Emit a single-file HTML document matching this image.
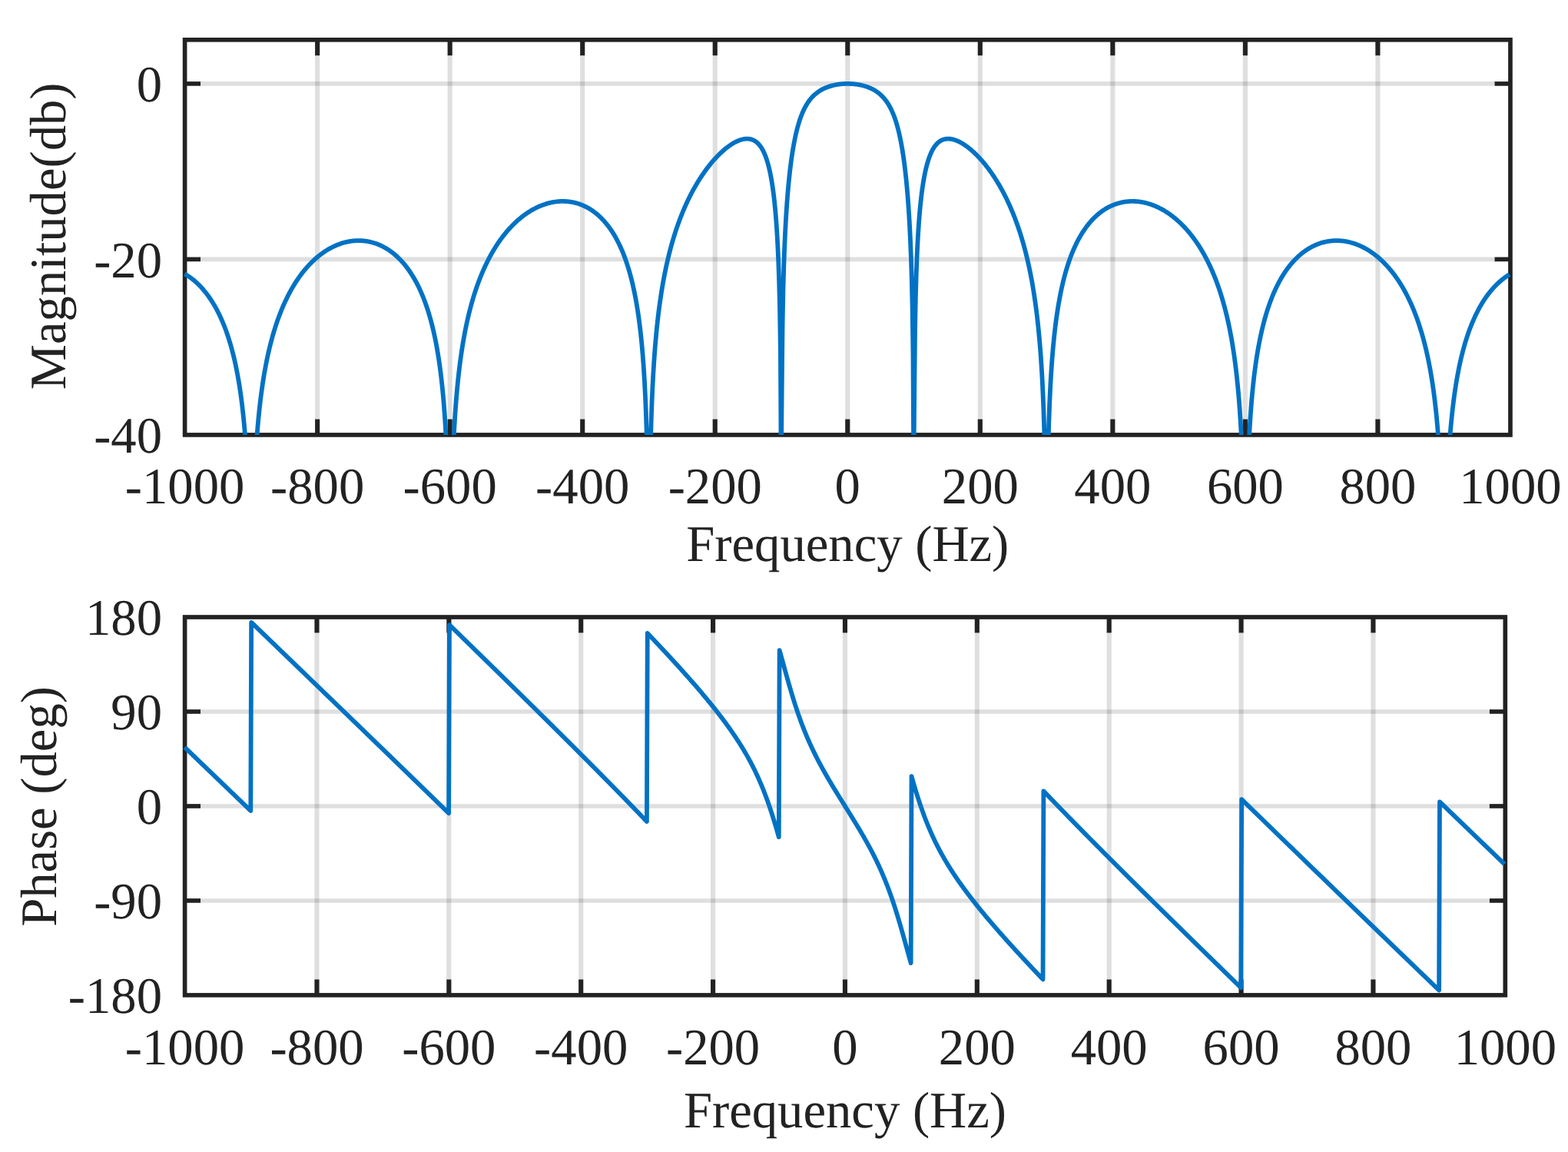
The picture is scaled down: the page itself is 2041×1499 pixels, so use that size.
<!DOCTYPE html>
<html lang="en"><head><meta charset="utf-8"><title>Frequency response</title>
<style>
html,body{margin:0;padding:0;background:#fff;}
body{width:2041px;height:1499px;overflow:hidden;}
svg{display:block;}
svg text{text-rendering:geometricPrecision;font-family:"Liberation Serif",serif;font-size:66.67px;fill:#222222;}
</style></head><body>
<svg width="2041" height="1499" viewBox="0 0 2041 1499">
<rect width="2041" height="1499" fill="#ffffff"/>
<g>
<line x1="413.13" y1="51.80" x2="413.13" y2="565.90" stroke="#262626" stroke-opacity="0.15" stroke-width="6.1"/>
<line x1="585.67" y1="51.80" x2="585.67" y2="565.90" stroke="#262626" stroke-opacity="0.15" stroke-width="6.1"/>
<line x1="758.21" y1="51.80" x2="758.21" y2="565.90" stroke="#262626" stroke-opacity="0.15" stroke-width="6.1"/>
<line x1="930.74" y1="51.80" x2="930.74" y2="565.90" stroke="#262626" stroke-opacity="0.15" stroke-width="6.1"/>
<line x1="1103.28" y1="51.80" x2="1103.28" y2="565.90" stroke="#262626" stroke-opacity="0.15" stroke-width="6.1"/>
<line x1="1275.81" y1="51.80" x2="1275.81" y2="565.90" stroke="#262626" stroke-opacity="0.15" stroke-width="6.1"/>
<line x1="1448.35" y1="51.80" x2="1448.35" y2="565.90" stroke="#262626" stroke-opacity="0.15" stroke-width="6.1"/>
<line x1="1620.88" y1="51.80" x2="1620.88" y2="565.90" stroke="#262626" stroke-opacity="0.15" stroke-width="6.1"/>
<line x1="1793.41" y1="51.80" x2="1793.41" y2="565.90" stroke="#262626" stroke-opacity="0.15" stroke-width="6.1"/>
<line x1="240.60" y1="108.92" x2="1965.95" y2="108.92" stroke="#262626" stroke-opacity="0.15" stroke-width="5.6"/>
<line x1="240.60" y1="337.41" x2="1965.95" y2="337.41" stroke="#262626" stroke-opacity="0.15" stroke-width="5.6"/>
<line x1="413.13" y1="51.80" x2="413.13" y2="72.20" stroke="#222222" stroke-width="6.1"/>
<line x1="413.13" y1="565.90" x2="413.13" y2="545.50" stroke="#222222" stroke-width="6.1"/>
<line x1="585.67" y1="51.80" x2="585.67" y2="72.20" stroke="#222222" stroke-width="6.1"/>
<line x1="585.67" y1="565.90" x2="585.67" y2="545.50" stroke="#222222" stroke-width="6.1"/>
<line x1="758.21" y1="51.80" x2="758.21" y2="72.20" stroke="#222222" stroke-width="6.1"/>
<line x1="758.21" y1="565.90" x2="758.21" y2="545.50" stroke="#222222" stroke-width="6.1"/>
<line x1="930.74" y1="51.80" x2="930.74" y2="72.20" stroke="#222222" stroke-width="6.1"/>
<line x1="930.74" y1="565.90" x2="930.74" y2="545.50" stroke="#222222" stroke-width="6.1"/>
<line x1="1103.28" y1="51.80" x2="1103.28" y2="72.20" stroke="#222222" stroke-width="6.1"/>
<line x1="1103.28" y1="565.90" x2="1103.28" y2="545.50" stroke="#222222" stroke-width="6.1"/>
<line x1="1275.81" y1="51.80" x2="1275.81" y2="72.20" stroke="#222222" stroke-width="6.1"/>
<line x1="1275.81" y1="565.90" x2="1275.81" y2="545.50" stroke="#222222" stroke-width="6.1"/>
<line x1="1448.35" y1="51.80" x2="1448.35" y2="72.20" stroke="#222222" stroke-width="6.1"/>
<line x1="1448.35" y1="565.90" x2="1448.35" y2="545.50" stroke="#222222" stroke-width="6.1"/>
<line x1="1620.88" y1="51.80" x2="1620.88" y2="72.20" stroke="#222222" stroke-width="6.1"/>
<line x1="1620.88" y1="565.90" x2="1620.88" y2="545.50" stroke="#222222" stroke-width="6.1"/>
<line x1="1793.41" y1="51.80" x2="1793.41" y2="72.20" stroke="#222222" stroke-width="6.1"/>
<line x1="1793.41" y1="565.90" x2="1793.41" y2="545.50" stroke="#222222" stroke-width="6.1"/>
<line x1="240.60" y1="108.92" x2="261.00" y2="108.92" stroke="#222222" stroke-width="5.6"/>
<line x1="1965.95" y1="108.92" x2="1945.55" y2="108.92" stroke="#222222" stroke-width="5.6"/>
<line x1="240.60" y1="337.41" x2="261.00" y2="337.41" stroke="#222222" stroke-width="5.6"/>
<line x1="1965.95" y1="337.41" x2="1945.55" y2="337.41" stroke="#222222" stroke-width="5.6"/>
<rect x="240.60" y="51.80" width="1725.35" height="514.10" fill="none" stroke="#222222" stroke-width="5.65"/>
<clipPath id="c1"><rect x="228.60" y="51.80" width="1749.35" height="514.10"/></clipPath>
<path d="M240.37,356.38 L241.23,356.88 L242.09,357.40 L242.96,357.94 L243.82,358.48 L244.68,359.05 L245.54,359.63 L246.41,360.22 L247.27,360.83 L248.13,361.46 L248.99,362.10 L249.86,362.76 L250.72,363.44 L251.58,364.13 L252.44,364.84 L253.31,365.57 L254.17,366.31 L255.03,367.08 L255.90,367.86 L256.76,368.66 L257.62,369.48 L258.48,370.32 L259.35,371.18 L260.21,372.06 L261.07,372.96 L261.93,373.88 L262.80,374.82 L263.66,375.79 L264.52,376.77 L265.38,377.79 L266.25,378.82 L267.11,379.88 L267.97,380.96 L268.84,382.07 L269.70,383.20 L270.56,384.36 L271.42,385.55 L272.29,386.76 L273.15,388.01 L274.01,389.28 L274.87,390.58 L275.74,391.92 L276.60,393.29 L277.46,394.69 L278.32,396.12 L279.19,397.59 L280.05,399.09 L280.91,400.64 L281.78,402.22 L282.64,403.84 L283.50,405.50 L284.36,407.21 L285.23,408.96 L286.09,410.76 L286.95,412.60 L287.81,414.50 L288.68,416.44 L289.54,418.45 L290.40,420.50 L291.26,422.62 L292.13,424.80 L292.99,427.05 L293.85,429.36 L294.72,431.74 L295.58,434.20 L296.44,436.74 L297.30,439.36 L298.17,442.07 L299.03,444.87 L299.89,447.77 L300.75,450.78 L301.62,453.90 L302.48,457.14 L303.34,460.50 L304.21,464.01 L305.07,467.66 L305.93,471.47 L306.79,475.45 L307.66,479.62 L308.52,483.99 L309.38,488.59 L310.24,493.43 L311.11,498.54 L311.97,503.95 L312.83,509.71 L313.69,515.83 L314.56,522.39 L315.42,529.45 L316.28,537.07 L317.15,545.35 L318.01,554.42 L318.87,564.45 L319.73,575.63 L320.60,588.28 L321.46,602.84 L322.32,619.95 L323.18,640.70 L324.05,667.06 L324.91,703.16 L325.77,760.67 L326.63,794.39 L327.50,794.39 L328.36,729.67 L329.22,684.30 L330.09,653.23 L330.95,629.57 L331.81,610.45 L332.67,594.40 L333.54,580.57 L334.40,568.41 L335.26,557.57 L336.12,547.79 L336.99,538.88 L337.85,530.70 L338.71,523.13 L339.57,516.09 L340.44,509.52 L341.30,503.35 L342.16,497.54 L343.03,492.05 L343.89,486.85 L344.75,481.90 L345.61,477.19 L346.48,472.70 L347.34,468.40 L348.20,464.28 L349.06,460.32 L349.93,456.52 L350.79,452.86 L351.65,449.34 L352.51,445.94 L353.38,442.65 L354.24,439.47 L355.10,436.40 L355.97,433.42 L356.83,430.53 L357.69,427.73 L358.55,425.01 L359.42,422.37 L360.28,419.80 L361.14,417.30 L362.00,414.86 L362.87,412.49 L363.73,410.18 L364.59,407.93 L365.45,405.73 L366.32,403.59 L367.18,401.50 L368.04,399.46 L368.91,397.46 L369.77,395.51 L370.63,393.61 L371.49,391.74 L372.36,389.92 L373.22,388.14 L374.08,386.39 L374.94,384.68 L375.81,383.01 L376.67,381.37 L377.53,379.77 L378.40,378.20 L379.26,376.66 L380.12,375.15 L380.98,373.67 L381.85,372.22 L382.71,370.79 L383.57,369.40 L384.43,368.03 L385.30,366.69 L386.16,365.37 L387.02,364.08 L387.88,362.81 L388.75,361.57 L389.61,360.35 L390.47,359.15 L391.34,357.98 L392.20,356.82 L393.06,355.69 L393.92,354.58 L394.79,353.49 L395.65,352.42 L396.51,351.37 L397.37,350.33 L398.24,349.32 L399.10,348.33 L399.96,347.35 L400.82,346.39 L401.69,345.45 L402.55,344.53 L403.41,343.62 L404.28,342.73 L405.14,341.86 L406.00,341.00 L406.86,340.16 L407.73,339.34 L408.59,338.53 L409.45,337.74 L410.31,336.96 L411.18,336.20 L412.04,335.45 L412.90,334.71 L413.76,333.99 L414.63,333.29 L415.49,332.60 L416.35,331.92 L417.22,331.25 L418.08,330.60 L418.94,329.97 L419.80,329.34 L420.67,328.73 L421.53,328.14 L422.39,327.55 L423.25,326.98 L424.12,326.42 L424.98,325.88 L425.84,325.34 L426.70,324.82 L427.57,324.31 L428.43,323.82 L429.29,323.33 L430.16,322.86 L431.02,322.40 L431.88,321.95 L432.74,321.51 L433.61,321.08 L434.47,320.67 L435.33,320.27 L436.19,319.88 L437.06,319.50 L437.92,319.13 L438.78,318.77 L439.65,318.42 L440.51,318.09 L441.37,317.77 L442.23,317.45 L443.10,317.15 L443.96,316.86 L444.82,316.58 L445.68,316.31 L446.55,316.05 L447.41,315.81 L448.27,315.57 L449.13,315.35 L450.00,315.13 L450.86,314.93 L451.72,314.73 L452.59,314.55 L453.45,314.38 L454.31,314.22 L455.17,314.07 L456.04,313.93 L456.90,313.80 L457.76,313.68 L458.62,313.58 L459.49,313.48 L460.35,313.40 L461.21,313.32 L462.07,313.26 L462.94,313.20 L463.80,313.16 L464.66,313.13 L465.53,313.11 L466.39,313.10 L467.25,313.10 L468.11,313.11 L468.98,313.13 L469.84,313.16 L470.70,313.21 L471.56,313.26 L472.43,313.33 L473.29,313.41 L474.15,313.50 L475.01,313.60 L475.88,313.71 L476.74,313.83 L477.60,313.97 L478.47,314.11 L479.33,314.27 L480.19,314.44 L481.05,314.62 L481.92,314.81 L482.78,315.01 L483.64,315.23 L484.50,315.46 L485.37,315.70 L486.23,315.95 L487.09,316.21 L487.95,316.49 L488.82,316.78 L489.68,317.08 L490.54,317.40 L491.41,317.72 L492.27,318.06 L493.13,318.42 L493.99,318.78 L494.86,319.16 L495.72,319.56 L496.58,319.96 L497.44,320.39 L498.31,320.82 L499.17,321.27 L500.03,321.73 L500.89,322.21 L501.76,322.70 L502.62,323.21 L503.48,323.73 L504.35,324.27 L505.21,324.82 L506.07,325.39 L506.93,325.97 L507.80,326.57 L508.66,327.19 L509.52,327.82 L510.38,328.47 L511.25,329.14 L512.11,329.82 L512.97,330.53 L513.84,331.25 L514.70,331.99 L515.56,332.74 L516.42,333.52 L517.29,334.32 L518.15,335.13 L519.01,335.97 L519.87,336.82 L520.74,337.70 L521.60,338.60 L522.46,339.52 L523.32,340.46 L524.19,341.43 L525.05,342.42 L525.91,343.43 L526.78,344.47 L527.64,345.53 L528.50,346.62 L529.36,347.74 L530.23,348.88 L531.09,350.05 L531.95,351.25 L532.81,352.48 L533.68,353.73 L534.54,355.02 L535.40,356.34 L536.26,357.70 L537.13,359.09 L537.99,360.51 L538.85,361.97 L539.72,363.46 L540.58,365.00 L541.44,366.57 L542.30,368.19 L543.17,369.85 L544.03,371.55 L544.89,373.30 L545.75,375.10 L546.62,376.95 L547.48,378.85 L548.34,380.80 L549.20,382.81 L550.07,384.88 L550.93,387.02 L551.79,389.21 L552.66,391.48 L553.52,393.81 L554.38,396.22 L555.24,398.71 L556.11,401.28 L556.97,403.94 L557.83,406.70 L558.69,409.55 L559.56,412.51 L560.42,415.58 L561.28,418.77 L562.14,422.08 L563.01,425.54 L563.87,429.14 L564.73,432.90 L565.60,436.83 L566.46,440.95 L567.32,445.27 L568.18,449.82 L569.05,454.61 L569.91,459.67 L570.77,465.03 L571.63,470.73 L572.50,476.81 L573.36,483.32 L574.22,490.32 L575.08,497.89 L575.95,506.12 L576.81,515.14 L577.67,525.11 L578.54,536.24 L579.40,548.84 L580.26,563.34 L581.12,580.40 L581.99,601.10 L582.85,627.40 L583.71,663.45 L584.57,720.91 L585.44,794.39 L586.30,775.53 L587.16,689.76 L588.03,644.33 L588.89,613.21 L589.75,589.49 L590.61,570.31 L591.48,554.21 L592.34,540.33 L593.20,528.12 L594.06,517.22 L594.93,507.39 L595.79,498.42 L596.65,490.18 L597.51,482.56 L598.38,475.47 L599.24,468.84 L600.10,462.61 L600.97,456.75 L601.83,451.20 L602.69,445.94 L603.55,440.94 L604.42,436.18 L605.28,431.62 L606.14,427.27 L607.00,423.09 L607.87,419.08 L608.73,415.22 L609.59,411.50 L610.45,407.92 L611.32,404.46 L612.18,401.12 L613.04,397.88 L613.91,394.75 L614.77,391.71 L615.63,388.77 L616.49,385.91 L617.36,383.13 L618.22,380.42 L619.08,377.79 L619.94,375.24 L620.81,372.74 L621.67,370.31 L622.53,367.94 L623.39,365.63 L624.26,363.38 L625.12,361.17 L625.98,359.02 L626.85,356.92 L627.71,354.86 L628.57,352.85 L629.43,350.88 L630.30,348.96 L631.16,347.07 L632.02,345.23 L632.88,343.42 L633.75,341.65 L634.61,339.92 L635.47,338.22 L636.33,336.55 L637.20,334.91 L638.06,333.31 L638.92,331.74 L639.79,330.19 L640.65,328.68 L641.51,327.19 L642.37,325.73 L643.24,324.30 L644.10,322.90 L644.96,321.52 L645.82,320.16 L646.69,318.83 L647.55,317.52 L648.41,316.23 L649.28,314.97 L650.14,313.73 L651.00,312.51 L651.86,311.31 L652.73,310.13 L653.59,308.98 L654.45,307.84 L655.31,306.72 L656.18,305.62 L657.04,304.54 L657.90,303.48 L658.76,302.44 L659.63,301.41 L660.49,300.40 L661.35,299.41 L662.22,298.44 L663.08,297.48 L663.94,296.54 L664.80,295.61 L665.67,294.70 L666.53,293.81 L667.39,292.93 L668.25,292.07 L669.12,291.22 L669.98,290.38 L670.84,289.56 L671.70,288.76 L672.57,287.97 L673.43,287.19 L674.29,286.43 L675.16,285.68 L676.02,284.94 L676.88,284.22 L677.74,283.51 L678.61,282.82 L679.47,282.13 L680.33,281.46 L681.19,280.81 L682.06,280.16 L682.92,279.53 L683.78,278.91 L684.64,278.30 L685.51,277.71 L686.37,277.12 L687.23,276.55 L688.10,275.99 L688.96,275.44 L689.82,274.91 L690.68,274.38 L691.55,273.87 L692.41,273.37 L693.27,272.88 L694.13,272.40 L695.00,271.93 L695.86,271.47 L696.72,271.03 L697.58,270.59 L698.45,270.17 L699.31,269.75 L700.17,269.35 L701.04,268.96 L701.90,268.58 L702.76,268.21 L703.62,267.85 L704.49,267.50 L705.35,267.17 L706.21,266.84 L707.07,266.52 L707.94,266.22 L708.80,265.92 L709.66,265.64 L710.52,265.36 L711.39,265.10 L712.25,264.84 L713.11,264.60 L713.98,264.37 L714.84,264.15 L715.70,263.93 L716.56,263.73 L717.43,263.54 L718.29,263.36 L719.15,263.19 L720.01,263.03 L720.88,262.88 L721.74,262.75 L722.60,262.62 L723.47,262.50 L724.33,262.39 L725.19,262.30 L726.05,262.21 L726.92,262.14 L727.78,262.07 L728.64,262.02 L729.50,261.97 L730.37,261.94 L731.23,261.92 L732.09,261.91 L732.95,261.91 L733.82,261.92 L734.68,261.94 L735.54,261.98 L736.41,262.02 L737.27,262.08 L738.13,262.14 L738.99,262.22 L739.86,262.31 L740.72,262.41 L741.58,262.52 L742.44,262.65 L743.31,262.78 L744.17,262.93 L745.03,263.09 L745.89,263.26 L746.76,263.44 L747.62,263.64 L748.48,263.85 L749.35,264.06 L750.21,264.30 L751.07,264.54 L751.93,264.80 L752.80,265.07 L753.66,265.35 L754.52,265.65 L755.38,265.96 L756.25,266.28 L757.11,266.62 L757.97,266.97 L758.83,267.34 L759.70,267.72 L760.56,268.11 L761.42,268.52 L762.29,268.94 L763.15,269.38 L764.01,269.83 L764.87,270.30 L765.74,270.78 L766.60,271.28 L767.46,271.79 L768.32,272.32 L769.19,272.87 L770.05,273.44 L770.91,274.02 L771.77,274.62 L772.64,275.23 L773.50,275.87 L774.36,276.52 L775.23,277.19 L776.09,277.88 L776.95,278.59 L777.81,279.32 L778.68,280.07 L779.54,280.84 L780.40,281.63 L781.26,282.45 L782.13,283.28 L782.99,284.14 L783.85,285.02 L784.72,285.92 L785.58,286.85 L786.44,287.80 L787.30,288.78 L788.17,289.79 L789.03,290.82 L789.89,291.88 L790.75,292.96 L791.62,294.08 L792.48,295.22 L793.34,296.40 L794.20,297.61 L795.07,298.85 L795.93,300.12 L796.79,301.43 L797.66,302.77 L798.52,304.15 L799.38,305.57 L800.24,307.03 L801.11,308.53 L801.97,310.07 L802.83,311.65 L803.69,313.29 L804.56,314.97 L805.42,316.69 L806.28,318.47 L807.14,320.31 L808.01,322.20 L808.87,324.15 L809.73,326.16 L810.60,328.23 L811.46,330.37 L812.32,332.59 L813.18,334.87 L814.05,337.24 L814.91,339.69 L815.77,342.22 L816.63,344.85 L817.50,347.58 L818.36,350.41 L819.22,353.35 L820.08,356.42 L820.95,359.61 L821.81,362.93 L822.67,366.40 L823.54,370.03 L824.40,373.84 L825.26,377.83 L826.12,382.02 L826.99,386.43 L827.85,391.09 L828.71,396.02 L829.57,401.25 L830.44,406.82 L831.30,412.77 L832.16,419.14 L833.02,426.01 L833.89,433.44 L834.75,441.54 L835.61,450.43 L836.48,460.26 L837.34,471.26 L838.20,483.72 L839.06,498.08 L839.93,515.00 L840.79,535.57 L841.65,561.73 L842.51,597.64 L843.38,654.96 L844.24,794.39 L845.10,709.30 L845.96,623.38 L846.83,577.81 L847.69,546.55 L848.55,522.69 L849.42,503.37 L850.28,487.12 L851.14,473.09 L852.00,460.74 L852.87,449.70 L853.73,439.71 L854.59,430.60 L855.45,422.21 L856.32,414.44 L857.18,407.21 L858.04,400.43 L858.91,394.05 L859.77,388.04 L860.63,382.34 L861.49,376.93 L862.36,371.78 L863.22,366.86 L864.08,362.16 L864.94,357.65 L865.81,353.32 L866.67,349.16 L867.53,345.14 L868.39,341.27 L869.26,337.54 L870.12,333.92 L870.98,330.42 L871.85,327.03 L872.71,323.74 L873.57,320.55 L874.43,317.44 L875.30,314.43 L876.16,311.49 L877.02,308.63 L877.88,305.84 L878.75,303.12 L879.61,300.47 L880.47,297.88 L881.33,295.34 L882.20,292.87 L883.06,290.45 L883.92,288.09 L884.79,285.77 L885.65,283.51 L886.51,281.29 L887.37,279.11 L888.24,276.98 L889.10,274.89 L889.96,272.84 L890.82,270.83 L891.69,268.86 L892.55,266.92 L893.41,265.02 L894.27,263.16 L895.14,261.32 L896.00,259.52 L896.86,257.75 L897.73,256.01 L898.59,254.30 L899.45,252.62 L900.31,250.96 L901.18,249.34 L902.04,247.74 L902.90,246.16 L903.76,244.61 L904.63,243.09 L905.49,241.59 L906.35,240.11 L907.21,238.66 L908.08,237.23 L908.94,235.82 L909.80,234.43 L910.67,233.06 L911.53,231.72 L912.39,230.39 L913.25,229.09 L914.12,227.80 L914.98,226.53 L915.84,225.29 L916.70,224.06 L917.57,222.85 L918.43,221.66 L919.29,220.48 L920.15,219.33 L921.02,218.19 L921.88,217.07 L922.74,215.96 L923.61,214.88 L924.47,213.81 L925.33,212.75 L926.19,211.71 L927.06,210.69 L927.92,209.69 L928.78,208.70 L929.64,207.72 L930.51,206.77 L931.37,205.82 L932.23,204.90 L933.10,203.99 L933.96,203.09 L934.82,202.21 L935.68,201.35 L936.55,200.50 L937.41,199.66 L938.27,198.84 L939.13,198.04 L940.00,197.25 L940.86,196.48 L941.72,195.72 L942.58,194.98 L943.45,194.25 L944.31,193.54 L945.17,192.85 L946.04,192.17 L946.90,191.51 L947.76,190.86 L948.62,190.23 L949.49,189.61 L950.35,189.02 L951.21,188.44 L952.07,187.87 L952.94,187.33 L953.80,186.80 L954.66,186.29 L955.52,185.80 L956.39,185.32 L957.25,184.87 L958.11,184.44 L958.98,184.02 L959.84,183.63 L960.70,183.25 L961.56,182.90 L962.43,182.57 L963.29,182.26 L964.15,181.98 L965.01,181.72 L965.88,181.48 L966.74,181.27 L967.60,181.09 L968.46,180.93 L969.33,180.80 L970.19,180.70 L971.05,180.64 L971.92,180.60 L972.78,180.60 L973.64,180.63 L974.50,180.69 L975.37,180.80 L976.23,180.94 L977.09,181.13 L977.95,181.36 L978.82,181.63 L979.68,181.95 L980.54,182.32 L981.40,182.75 L982.27,183.23 L983.13,183.77 L983.99,184.37 L984.86,185.05 L985.72,185.79 L986.58,186.60 L987.44,187.50 L988.31,188.48 L989.17,189.55 L990.03,190.72 L990.89,192.00 L991.76,193.39 L992.62,194.90 L993.48,196.54 L994.35,198.32 L995.21,200.25 L996.07,202.35 L996.93,204.63 L997.80,207.10 L998.66,209.79 L999.52,212.72 L1000.38,215.91 L1001.25,219.38 L1002.11,223.18 L1002.97,227.34 L1003.83,231.90 L1004.70,236.92 L1005.56,242.46 L1006.42,248.60 L1007.29,255.45 L1008.15,263.12 L1009.01,271.78 L1009.87,281.65 L1010.74,293.04 L1011.60,306.38 L1012.46,322.33 L1013.32,341.99 L1014.19,367.31 L1015.05,402.44 L1015.91,459.05 L1016.77,611.75 L1017.64,512.18 L1018.50,425.76 L1019.36,379.78 L1020.23,348.18 L1021.09,324.06 L1021.95,304.57 L1022.81,288.22 L1023.68,274.18 L1024.54,261.89 L1025.40,251.00 L1026.26,241.24 L1027.13,232.43 L1027.99,224.42 L1028.85,217.10 L1029.71,210.39 L1030.58,204.20 L1031.44,198.49 L1032.30,193.19 L1033.17,188.28 L1034.03,183.71 L1034.89,179.45 L1035.75,175.48 L1036.62,171.76 L1037.48,168.29 L1038.34,165.04 L1039.20,161.99 L1040.07,159.12 L1040.93,156.43 L1041.79,153.90 L1042.65,151.52 L1043.52,149.28 L1044.38,147.17 L1045.24,145.17 L1046.11,143.29 L1046.97,141.51 L1047.83,139.83 L1048.69,138.25 L1049.56,136.74 L1050.42,135.32 L1051.28,133.96 L1052.14,132.68 L1053.01,131.47 L1053.87,130.31 L1054.73,129.22 L1055.59,128.17 L1056.46,127.18 L1057.32,126.24 L1058.18,125.34 L1059.05,124.48 L1059.91,123.67 L1060.77,122.89 L1061.63,122.15 L1062.50,121.44 L1063.36,120.77 L1064.22,120.12 L1065.08,119.51 L1065.95,118.92 L1066.81,118.35 L1067.67,117.82 L1068.54,117.30 L1069.40,116.81 L1070.26,116.34 L1071.12,115.90 L1071.99,115.47 L1072.85,115.06 L1073.71,114.67 L1074.57,114.29 L1075.44,113.94 L1076.30,113.60 L1077.16,113.27 L1078.02,112.96 L1078.89,112.66 L1079.75,112.38 L1080.61,112.11 L1081.48,111.86 L1082.34,111.62 L1083.20,111.39 L1084.06,111.17 L1084.93,110.96 L1085.79,110.76 L1086.65,110.58 L1087.51,110.41 L1088.38,110.24 L1089.24,110.09 L1090.10,109.95 L1090.96,109.82 L1091.83,109.69 L1092.69,109.58 L1093.55,109.47 L1094.42,109.38 L1095.28,109.29 L1096.14,109.22 L1097.00,109.15 L1097.87,109.09 L1098.73,109.04 L1099.59,109.00 L1100.45,108.97 L1101.32,108.94 L1102.18,108.93 L1103.04,108.92 L1103.90,108.92 L1104.77,108.94 L1105.63,108.95 L1106.49,108.98 L1107.36,109.02 L1108.22,109.06 L1109.08,109.12 L1109.94,109.18 L1110.81,109.25 L1111.67,109.33 L1112.53,109.42 L1113.39,109.52 L1114.26,109.63 L1115.12,109.75 L1115.98,109.88 L1116.84,110.01 L1117.71,110.16 L1118.57,110.32 L1119.43,110.49 L1120.30,110.66 L1121.16,110.85 L1122.02,111.05 L1122.88,111.27 L1123.75,111.49 L1124.61,111.73 L1125.47,111.97 L1126.33,112.24 L1127.20,112.51 L1128.06,112.80 L1128.92,113.10 L1129.79,113.42 L1130.65,113.75 L1131.51,114.10 L1132.37,114.46 L1133.24,114.85 L1134.10,115.24 L1134.96,115.66 L1135.82,116.10 L1136.69,116.56 L1137.55,117.04 L1138.41,117.54 L1139.27,118.06 L1140.14,118.61 L1141.00,119.18 L1141.86,119.78 L1142.73,120.41 L1143.59,121.07 L1144.45,121.76 L1145.31,122.49 L1146.18,123.24 L1147.04,124.04 L1147.90,124.87 L1148.76,125.75 L1149.63,126.67 L1150.49,127.63 L1151.35,128.65 L1152.21,129.71 L1153.08,130.84 L1153.94,132.02 L1154.80,133.26 L1155.67,134.58 L1156.53,135.96 L1157.39,137.42 L1158.25,138.97 L1159.12,140.60 L1159.98,142.32 L1160.84,144.14 L1161.70,146.08 L1162.57,148.12 L1163.43,150.29 L1164.29,152.60 L1165.15,155.05 L1166.02,157.65 L1166.88,160.42 L1167.74,163.36 L1168.61,166.51 L1169.47,169.86 L1170.33,173.44 L1171.19,177.27 L1172.06,181.37 L1172.92,185.77 L1173.78,190.50 L1174.64,195.58 L1175.51,201.06 L1176.37,206.99 L1177.23,213.41 L1178.09,220.39 L1178.96,228.01 L1179.82,236.37 L1180.68,245.60 L1181.55,255.85 L1182.41,267.35 L1183.27,280.39 L1184.13,295.41 L1185.00,313.07 L1185.86,334.46 L1186.72,361.52 L1187.58,398.41 L1188.45,456.79 L1189.31,611.27 L1190.17,513.47 L1191.03,428.83 L1191.90,384.62 L1192.76,354.77 L1193.62,332.39 L1194.49,314.61 L1195.35,299.97 L1196.21,287.59 L1197.07,276.94 L1197.94,267.66 L1198.80,259.48 L1199.66,252.20 L1200.52,245.70 L1201.39,239.84 L1202.25,234.55 L1203.11,229.75 L1203.98,225.38 L1204.84,221.39 L1205.70,217.75 L1206.56,214.41 L1207.43,211.34 L1208.29,208.53 L1209.15,205.94 L1210.01,203.55 L1210.88,201.36 L1211.74,199.34 L1212.60,197.48 L1213.46,195.76 L1214.33,194.19 L1215.19,192.73 L1216.05,191.40 L1216.92,190.17 L1217.78,189.05 L1218.64,188.02 L1219.50,187.08 L1220.37,186.22 L1221.23,185.44 L1222.09,184.73 L1222.95,184.09 L1223.82,183.51 L1224.68,183.00 L1225.54,182.55 L1226.40,182.15 L1227.27,181.80 L1228.13,181.50 L1228.99,181.24 L1229.86,181.04 L1230.72,180.87 L1231.58,180.75 L1232.44,180.66 L1233.31,180.61 L1234.17,180.59 L1235.03,180.61 L1235.89,180.66 L1236.76,180.75 L1237.62,180.86 L1238.48,181.00 L1239.34,181.17 L1240.21,181.37 L1241.07,181.59 L1241.93,181.83 L1242.80,182.11 L1243.66,182.40 L1244.52,182.72 L1245.38,183.06 L1246.25,183.42 L1247.11,183.81 L1247.97,184.21 L1248.83,184.63 L1249.70,185.08 L1250.56,185.54 L1251.42,186.02 L1252.28,186.52 L1253.15,187.04 L1254.01,187.58 L1254.87,188.13 L1255.74,188.70 L1256.60,189.29 L1257.46,189.90 L1258.32,190.52 L1259.19,191.15 L1260.05,191.81 L1260.91,192.48 L1261.77,193.17 L1262.64,193.87 L1263.50,194.59 L1264.36,195.32 L1265.22,196.07 L1266.09,196.83 L1266.95,197.61 L1267.81,198.41 L1268.68,199.22 L1269.54,200.04 L1270.40,200.89 L1271.26,201.74 L1272.13,202.61 L1272.99,203.50 L1273.85,204.40 L1274.71,205.32 L1275.58,206.26 L1276.44,207.20 L1277.30,208.17 L1278.17,209.15 L1279.03,210.15 L1279.89,211.16 L1280.75,212.19 L1281.62,213.23 L1282.48,214.30 L1283.34,215.37 L1284.20,216.47 L1285.07,217.58 L1285.93,218.71 L1286.79,219.86 L1287.65,221.02 L1288.52,222.20 L1289.38,223.40 L1290.24,224.62 L1291.11,225.86 L1291.97,227.11 L1292.83,228.39 L1293.69,229.68 L1294.56,231.00 L1295.42,232.33 L1296.28,233.69 L1297.14,235.06 L1298.01,236.46 L1298.87,237.88 L1299.73,239.32 L1300.59,240.79 L1301.46,242.27 L1302.32,243.79 L1303.18,245.32 L1304.05,246.88 L1304.91,248.47 L1305.77,250.08 L1306.63,251.72 L1307.50,253.39 L1308.36,255.08 L1309.22,256.81 L1310.08,258.56 L1310.95,260.35 L1311.81,262.16 L1312.67,264.01 L1313.53,265.89 L1314.40,267.81 L1315.26,269.76 L1316.12,271.75 L1316.99,273.78 L1317.85,275.85 L1318.71,277.96 L1319.57,280.11 L1320.44,282.30 L1321.30,284.54 L1322.16,286.83 L1323.02,289.17 L1323.89,291.56 L1324.75,294.00 L1325.61,296.50 L1326.47,299.06 L1327.34,301.68 L1328.20,304.36 L1329.06,307.11 L1329.93,309.93 L1330.79,312.83 L1331.65,315.80 L1332.51,318.86 L1333.38,322.01 L1334.24,325.24 L1335.10,328.58 L1335.96,332.02 L1336.83,335.57 L1337.69,339.24 L1338.55,343.04 L1339.42,346.97 L1340.28,351.05 L1341.14,355.29 L1342.00,359.70 L1342.87,364.30 L1343.73,369.10 L1344.59,374.12 L1345.45,379.39 L1346.32,384.93 L1347.18,390.76 L1348.04,396.94 L1348.90,403.49 L1349.77,410.47 L1350.63,417.95 L1351.49,425.99 L1352.36,434.70 L1353.22,444.19 L1354.08,454.63 L1354.94,466.24 L1355.81,479.31 L1356.67,494.27 L1357.53,511.80 L1358.39,532.97 L1359.26,559.74 L1360.12,596.26 L1360.98,654.19 L1361.84,794.39 L1362.71,709.74 L1363.57,624.43 L1364.43,579.47 L1365.30,548.81 L1366.16,525.56 L1367.02,506.85 L1367.88,491.20 L1368.75,477.78 L1369.61,466.04 L1370.47,455.61 L1371.33,446.23 L1372.20,437.72 L1373.06,429.95 L1373.92,422.78 L1374.78,416.15 L1375.65,409.98 L1376.51,404.22 L1377.37,398.81 L1378.24,393.72 L1379.10,388.92 L1379.96,384.37 L1380.82,380.06 L1381.69,375.97 L1382.55,372.07 L1383.41,368.34 L1384.27,364.79 L1385.14,361.38 L1386.00,358.12 L1386.86,354.99 L1387.72,351.99 L1388.59,349.10 L1389.45,346.31 L1390.31,343.63 L1391.18,341.05 L1392.04,338.55 L1392.90,336.14 L1393.76,333.81 L1394.63,331.56 L1395.49,329.38 L1396.35,327.27 L1397.21,325.22 L1398.08,323.24 L1398.94,321.32 L1399.80,319.46 L1400.66,317.65 L1401.53,315.89 L1402.39,314.19 L1403.25,312.53 L1404.12,310.92 L1404.98,309.35 L1405.84,307.83 L1406.70,306.35 L1407.57,304.91 L1408.43,303.51 L1409.29,302.15 L1410.15,300.82 L1411.02,299.53 L1411.88,298.27 L1412.74,297.05 L1413.61,295.85 L1414.47,294.69 L1415.33,293.56 L1416.19,292.46 L1417.06,291.39 L1417.92,290.34 L1418.78,289.32 L1419.64,288.33 L1420.51,287.36 L1421.37,286.42 L1422.23,285.50 L1423.09,284.61 L1423.96,283.74 L1424.82,282.89 L1425.68,282.07 L1426.55,281.27 L1427.41,280.48 L1428.27,279.72 L1429.13,278.98 L1430.00,278.26 L1430.86,277.56 L1431.72,276.88 L1432.58,276.22 L1433.45,275.57 L1434.31,274.95 L1435.17,274.34 L1436.03,273.75 L1436.90,273.17 L1437.76,272.62 L1438.62,272.08 L1439.49,271.55 L1440.35,271.05 L1441.21,270.55 L1442.07,270.08 L1442.94,269.62 L1443.80,269.17 L1444.66,268.74 L1445.52,268.33 L1446.39,267.93 L1447.25,267.54 L1448.11,267.17 L1448.97,266.81 L1449.84,266.46 L1450.70,266.13 L1451.56,265.82 L1452.43,265.51 L1453.29,265.22 L1454.15,264.94 L1455.01,264.68 L1455.88,264.43 L1456.74,264.19 L1457.60,263.96 L1458.46,263.75 L1459.33,263.55 L1460.19,263.36 L1461.05,263.18 L1461.91,263.01 L1462.78,262.86 L1463.64,262.72 L1464.50,262.59 L1465.37,262.47 L1466.23,262.36 L1467.09,262.27 L1467.95,262.18 L1468.82,262.11 L1469.68,262.05 L1470.54,262.00 L1471.40,261.96 L1472.27,261.93 L1473.13,261.91 L1473.99,261.91 L1474.86,261.91 L1475.72,261.93 L1476.58,261.96 L1477.44,261.99 L1478.31,262.04 L1479.17,262.10 L1480.03,262.17 L1480.89,262.25 L1481.76,262.34 L1482.62,262.44 L1483.48,262.55 L1484.34,262.67 L1485.21,262.81 L1486.07,262.95 L1486.93,263.10 L1487.80,263.27 L1488.66,263.44 L1489.52,263.63 L1490.38,263.82 L1491.25,264.03 L1492.11,264.25 L1492.97,264.47 L1493.83,264.71 L1494.70,264.96 L1495.56,265.22 L1496.42,265.49 L1497.28,265.77 L1498.15,266.05 L1499.01,266.35 L1499.87,266.67 L1500.74,266.99 L1501.60,267.32 L1502.46,267.66 L1503.32,268.01 L1504.19,268.38 L1505.05,268.75 L1505.91,269.14 L1506.77,269.54 L1507.64,269.94 L1508.50,270.36 L1509.36,270.79 L1510.22,271.23 L1511.09,271.68 L1511.95,272.14 L1512.81,272.62 L1513.68,273.10 L1514.54,273.60 L1515.40,274.10 L1516.26,274.62 L1517.13,275.15 L1517.99,275.69 L1518.85,276.25 L1519.71,276.81 L1520.58,277.39 L1521.44,277.98 L1522.30,278.58 L1523.16,279.19 L1524.03,279.82 L1524.89,280.46 L1525.75,281.11 L1526.62,281.77 L1527.48,282.45 L1528.34,283.14 L1529.20,283.84 L1530.07,284.55 L1530.93,285.28 L1531.79,286.02 L1532.65,286.78 L1533.52,287.55 L1534.38,288.33 L1535.24,289.13 L1536.10,289.94 L1536.97,290.76 L1537.83,291.61 L1538.69,292.46 L1539.56,293.33 L1540.42,294.22 L1541.28,295.12 L1542.14,296.03 L1543.01,296.97 L1543.87,297.92 L1544.73,298.88 L1545.59,299.86 L1546.46,300.86 L1547.32,301.88 L1548.18,302.91 L1549.05,303.97 L1549.91,305.04 L1550.77,306.13 L1551.63,307.23 L1552.50,308.36 L1553.36,309.51 L1554.22,310.67 L1555.08,311.86 L1555.95,313.07 L1556.81,314.30 L1557.67,315.55 L1558.53,316.82 L1559.40,318.12 L1560.26,319.44 L1561.12,320.78 L1561.99,322.15 L1562.85,323.54 L1563.71,324.96 L1564.57,326.40 L1565.44,327.87 L1566.30,329.37 L1567.16,330.90 L1568.02,332.46 L1568.89,334.04 L1569.75,335.66 L1570.61,337.31 L1571.47,338.99 L1572.34,340.71 L1573.20,342.46 L1574.06,344.25 L1574.93,346.07 L1575.79,347.94 L1576.65,349.84 L1577.51,351.78 L1578.38,353.77 L1579.24,355.80 L1580.10,357.88 L1580.96,360.00 L1581.83,362.18 L1582.69,364.41 L1583.55,366.69 L1584.41,369.03 L1585.28,371.42 L1586.14,373.88 L1587.00,376.40 L1587.87,379.00 L1588.73,381.66 L1589.59,384.39 L1590.45,387.21 L1591.32,390.11 L1592.18,393.10 L1593.04,396.18 L1593.90,399.36 L1594.77,402.64 L1595.63,406.04 L1596.49,409.55 L1597.35,413.20 L1598.22,416.98 L1599.08,420.90 L1599.94,424.99 L1600.81,429.25 L1601.67,433.69 L1602.53,438.34 L1603.39,443.21 L1604.26,448.33 L1605.12,453.72 L1605.98,459.40 L1606.84,465.43 L1607.71,471.83 L1608.57,478.67 L1609.43,485.99 L1610.29,493.89 L1611.16,502.45 L1612.02,511.79 L1612.88,522.09 L1613.75,533.55 L1614.61,546.48 L1615.47,561.30 L1616.33,578.69 L1617.20,599.71 L1618.06,626.34 L1618.92,662.71 L1619.78,720.50 L1620.65,794.39 L1621.51,775.77 L1622.37,690.32 L1623.24,645.22 L1624.10,614.42 L1624.96,591.03 L1625.82,572.18 L1626.69,556.40 L1627.55,542.84 L1628.41,530.96 L1629.27,520.39 L1630.14,510.88 L1631.00,502.24 L1631.86,494.33 L1632.72,487.03 L1633.59,480.27 L1634.45,473.96 L1635.31,468.06 L1636.18,462.52 L1637.04,457.30 L1637.90,452.37 L1638.76,447.70 L1639.63,443.26 L1640.49,439.03 L1641.35,435.00 L1642.21,431.15 L1643.08,427.46 L1643.94,423.93 L1644.80,420.54 L1645.66,417.28 L1646.53,414.15 L1647.39,411.13 L1648.25,408.23 L1649.12,405.42 L1649.98,402.71 L1650.84,400.09 L1651.70,397.56 L1652.57,395.10 L1653.43,392.73 L1654.29,390.43 L1655.15,388.19 L1656.02,386.03 L1656.88,383.92 L1657.74,381.88 L1658.60,379.90 L1659.47,377.97 L1660.33,376.09 L1661.19,374.27 L1662.06,372.49 L1662.92,370.76 L1663.78,369.08 L1664.64,367.44 L1665.51,365.84 L1666.37,364.29 L1667.23,362.77 L1668.09,361.29 L1668.96,359.85 L1669.82,358.44 L1670.68,357.07 L1671.54,355.73 L1672.41,354.43 L1673.27,353.15 L1674.13,351.91 L1675.00,350.69 L1675.86,349.51 L1676.72,348.35 L1677.58,347.22 L1678.45,346.12 L1679.31,345.04 L1680.17,343.99 L1681.03,342.96 L1681.90,341.96 L1682.76,340.98 L1683.62,340.03 L1684.49,339.09 L1685.35,338.18 L1686.21,337.30 L1687.07,336.43 L1687.94,335.58 L1688.80,334.75 L1689.66,333.95 L1690.52,333.16 L1691.39,332.39 L1692.25,331.64 L1693.11,330.91 L1693.97,330.20 L1694.84,329.51 L1695.70,328.83 L1696.56,328.17 L1697.43,327.53 L1698.29,326.90 L1699.15,326.29 L1700.01,325.70 L1700.88,325.13 L1701.74,324.56 L1702.60,324.02 L1703.46,323.49 L1704.33,322.97 L1705.19,322.47 L1706.05,321.99 L1706.91,321.52 L1707.78,321.06 L1708.64,320.62 L1709.50,320.19 L1710.37,319.78 L1711.23,319.37 L1712.09,318.99 L1712.95,318.61 L1713.82,318.25 L1714.68,317.91 L1715.54,317.57 L1716.40,317.25 L1717.27,316.94 L1718.13,316.65 L1718.99,316.36 L1719.85,316.09 L1720.72,315.83 L1721.58,315.59 L1722.44,315.35 L1723.31,315.13 L1724.17,314.92 L1725.03,314.72 L1725.89,314.53 L1726.76,314.36 L1727.62,314.20 L1728.48,314.04 L1729.34,313.90 L1730.21,313.77 L1731.07,313.66 L1731.93,313.55 L1732.79,313.46 L1733.66,313.37 L1734.52,313.30 L1735.38,313.24 L1736.25,313.19 L1737.11,313.15 L1737.97,313.12 L1738.83,313.10 L1739.70,313.10 L1740.56,313.10 L1741.42,313.12 L1742.28,313.14 L1743.15,313.18 L1744.01,313.23 L1744.87,313.28 L1745.73,313.35 L1746.60,313.43 L1747.46,313.52 L1748.32,313.63 L1749.19,313.74 L1750.05,313.86 L1750.91,313.99 L1751.77,314.14 L1752.64,314.29 L1753.50,314.46 L1754.36,314.64 L1755.22,314.82 L1756.09,315.02 L1756.95,315.23 L1757.81,315.45 L1758.68,315.68 L1759.54,315.92 L1760.40,316.17 L1761.26,316.43 L1762.13,316.71 L1762.99,316.99 L1763.85,317.29 L1764.71,317.60 L1765.58,317.91 L1766.44,318.24 L1767.30,318.58 L1768.16,318.93 L1769.03,319.30 L1769.89,319.67 L1770.75,320.05 L1771.62,320.45 L1772.48,320.86 L1773.34,321.28 L1774.20,321.71 L1775.07,322.15 L1775.93,322.61 L1776.79,323.07 L1777.65,323.55 L1778.52,324.04 L1779.38,324.54 L1780.24,325.06 L1781.10,325.59 L1781.97,326.13 L1782.83,326.68 L1783.69,327.24 L1784.56,327.82 L1785.42,328.41 L1786.28,329.01 L1787.14,329.63 L1788.01,330.26 L1788.87,330.90 L1789.73,331.56 L1790.59,332.23 L1791.46,332.91 L1792.32,333.61 L1793.18,334.32 L1794.04,335.05 L1794.91,335.79 L1795.77,336.54 L1796.63,337.31 L1797.50,338.10 L1798.36,338.90 L1799.22,339.72 L1800.08,340.55 L1800.95,341.40 L1801.81,342.26 L1802.67,343.14 L1803.53,344.04 L1804.40,344.95 L1805.26,345.88 L1806.12,346.83 L1806.98,347.80 L1807.85,348.78 L1808.71,349.79 L1809.57,350.81 L1810.44,351.85 L1811.30,352.91 L1812.16,353.99 L1813.02,355.09 L1813.89,356.21 L1814.75,357.35 L1815.61,358.51 L1816.47,359.70 L1817.34,360.91 L1818.20,362.14 L1819.06,363.39 L1819.93,364.67 L1820.79,365.97 L1821.65,367.30 L1822.51,368.66 L1823.38,370.04 L1824.24,371.44 L1825.10,372.88 L1825.96,374.34 L1826.83,375.84 L1827.69,377.36 L1828.55,378.92 L1829.41,380.50 L1830.28,382.12 L1831.14,383.78 L1832.00,385.47 L1832.87,387.19 L1833.73,388.95 L1834.59,390.75 L1835.45,392.60 L1836.32,394.48 L1837.18,396.40 L1838.04,398.37 L1838.90,400.39 L1839.77,402.46 L1840.63,404.57 L1841.49,406.74 L1842.35,408.96 L1843.22,411.24 L1844.08,413.57 L1844.94,415.97 L1845.81,418.44 L1846.67,420.97 L1847.53,423.57 L1848.39,426.25 L1849.26,429.01 L1850.12,431.85 L1850.98,434.78 L1851.84,437.80 L1852.71,440.92 L1853.57,444.15 L1854.43,447.49 L1855.29,450.94 L1856.16,454.53 L1857.02,458.25 L1857.88,462.12 L1858.75,466.15 L1859.61,470.35 L1860.47,474.74 L1861.33,479.33 L1862.20,484.15 L1863.06,489.21 L1863.92,494.54 L1864.78,500.17 L1865.65,506.14 L1866.51,512.49 L1867.37,519.27 L1868.23,526.54 L1869.10,534.38 L1869.96,542.88 L1870.82,552.17 L1871.69,562.42 L1872.55,573.82 L1873.41,586.69 L1874.27,601.46 L1875.14,618.79 L1876.00,639.77 L1876.86,666.34 L1877.72,702.66 L1878.59,760.39 L1879.45,794.39 L1880.31,794.39 L1881.17,730.05 L1882.04,684.90 L1882.90,654.05 L1883.76,630.61 L1884.63,611.70 L1885.49,595.87 L1886.35,582.26 L1887.21,570.33 L1888.08,559.71 L1888.94,550.14 L1889.80,541.45 L1890.66,533.48 L1891.53,526.14 L1892.39,519.32 L1893.25,512.97 L1894.12,507.02 L1894.98,501.43 L1895.84,496.15 L1896.70,491.17 L1897.57,486.44 L1898.43,481.95 L1899.29,477.68 L1900.15,473.60 L1901.02,469.70 L1901.88,465.96 L1902.74,462.38 L1903.60,458.94 L1904.47,455.63 L1905.33,452.45 L1906.19,449.38 L1907.06,446.43 L1907.92,443.57 L1908.78,440.81 L1909.64,438.14 L1910.51,435.56 L1911.37,433.06 L1912.23,430.64 L1913.09,428.29 L1913.96,426.01 L1914.82,423.79 L1915.68,421.64 L1916.54,419.55 L1917.41,417.52 L1918.27,415.54 L1919.13,413.62 L1920.00,411.75 L1920.86,409.92 L1921.72,408.15 L1922.58,406.42 L1923.45,404.73 L1924.31,403.09 L1925.17,401.49 L1926.03,399.92 L1926.90,398.40 L1927.76,396.91 L1928.62,395.46 L1929.48,394.04 L1930.35,392.65 L1931.21,391.30 L1932.07,389.98 L1932.94,388.69 L1933.80,387.43 L1934.66,386.20 L1935.52,385.00 L1936.39,383.82 L1937.25,382.68 L1938.11,381.55 L1938.97,380.46 L1939.84,379.39 L1940.70,378.34 L1941.56,377.32 L1942.42,376.32 L1943.29,375.34 L1944.15,374.39 L1945.01,373.45 L1945.88,372.54 L1946.74,371.65 L1947.60,370.78 L1948.46,369.93 L1949.33,369.10 L1950.19,368.29 L1951.05,367.50 L1951.91,366.72 L1952.78,365.97 L1953.64,365.23 L1954.50,364.51 L1955.36,363.81 L1956.23,363.12 L1957.09,362.46 L1957.95,361.80 L1958.82,361.17 L1959.68,360.55 L1960.54,359.95 L1961.40,359.36 L1962.27,358.79 L1963.13,358.23 L1963.99,357.69 L1964.85,357.16" fill="none" stroke="#0072c4" stroke-width="5.8" stroke-linejoin="round" stroke-linecap="butt" clip-path="url(#c1)"/>
<text x="240.60" y="654.70" text-anchor="middle">-1000</text>
<text x="413.13" y="654.70" text-anchor="middle">-800</text>
<text x="585.67" y="654.70" text-anchor="middle">-600</text>
<text x="758.21" y="654.70" text-anchor="middle">-400</text>
<text x="930.74" y="654.70" text-anchor="middle">-200</text>
<text x="1103.28" y="654.70" text-anchor="middle">0</text>
<text x="1275.81" y="654.70" text-anchor="middle">200</text>
<text x="1448.35" y="654.70" text-anchor="middle">400</text>
<text x="1620.88" y="654.70" text-anchor="middle">600</text>
<text x="1793.41" y="654.70" text-anchor="middle">800</text>
<text x="1965.95" y="654.70" text-anchor="middle">1000</text>
<text x="211.00" y="132.12" text-anchor="end">0</text>
<text x="211.00" y="360.61" text-anchor="end">-20</text>
<text x="211.00" y="589.10" text-anchor="end">-40</text>
<text x="1103.28" y="730.20" text-anchor="middle">Frequency (Hz)</text>
<text transform="translate(84.50,307.35) rotate(-90)" text-anchor="middle">Magnitude(db)</text>
</g>
<g>
<line x1="412.47" y1="803.00" x2="412.47" y2="1294.90" stroke="#262626" stroke-opacity="0.15" stroke-width="6.1"/>
<line x1="584.34" y1="803.00" x2="584.34" y2="1294.90" stroke="#262626" stroke-opacity="0.15" stroke-width="6.1"/>
<line x1="756.21" y1="803.00" x2="756.21" y2="1294.90" stroke="#262626" stroke-opacity="0.15" stroke-width="6.1"/>
<line x1="928.08" y1="803.00" x2="928.08" y2="1294.90" stroke="#262626" stroke-opacity="0.15" stroke-width="6.1"/>
<line x1="1099.95" y1="803.00" x2="1099.95" y2="1294.90" stroke="#262626" stroke-opacity="0.15" stroke-width="6.1"/>
<line x1="1271.82" y1="803.00" x2="1271.82" y2="1294.90" stroke="#262626" stroke-opacity="0.15" stroke-width="6.1"/>
<line x1="1443.69" y1="803.00" x2="1443.69" y2="1294.90" stroke="#262626" stroke-opacity="0.15" stroke-width="6.1"/>
<line x1="1615.56" y1="803.00" x2="1615.56" y2="1294.90" stroke="#262626" stroke-opacity="0.15" stroke-width="6.1"/>
<line x1="1787.43" y1="803.00" x2="1787.43" y2="1294.90" stroke="#262626" stroke-opacity="0.15" stroke-width="6.1"/>
<line x1="240.60" y1="925.98" x2="1959.30" y2="925.98" stroke="#262626" stroke-opacity="0.15" stroke-width="5.6"/>
<line x1="240.60" y1="1048.95" x2="1959.30" y2="1048.95" stroke="#262626" stroke-opacity="0.15" stroke-width="5.6"/>
<line x1="240.60" y1="1171.93" x2="1959.30" y2="1171.93" stroke="#262626" stroke-opacity="0.15" stroke-width="5.6"/>
<line x1="412.47" y1="803.00" x2="412.47" y2="823.40" stroke="#222222" stroke-width="6.1"/>
<line x1="412.47" y1="1294.90" x2="412.47" y2="1274.50" stroke="#222222" stroke-width="6.1"/>
<line x1="584.34" y1="803.00" x2="584.34" y2="823.40" stroke="#222222" stroke-width="6.1"/>
<line x1="584.34" y1="1294.90" x2="584.34" y2="1274.50" stroke="#222222" stroke-width="6.1"/>
<line x1="756.21" y1="803.00" x2="756.21" y2="823.40" stroke="#222222" stroke-width="6.1"/>
<line x1="756.21" y1="1294.90" x2="756.21" y2="1274.50" stroke="#222222" stroke-width="6.1"/>
<line x1="928.08" y1="803.00" x2="928.08" y2="823.40" stroke="#222222" stroke-width="6.1"/>
<line x1="928.08" y1="1294.90" x2="928.08" y2="1274.50" stroke="#222222" stroke-width="6.1"/>
<line x1="1099.95" y1="803.00" x2="1099.95" y2="823.40" stroke="#222222" stroke-width="6.1"/>
<line x1="1099.95" y1="1294.90" x2="1099.95" y2="1274.50" stroke="#222222" stroke-width="6.1"/>
<line x1="1271.82" y1="803.00" x2="1271.82" y2="823.40" stroke="#222222" stroke-width="6.1"/>
<line x1="1271.82" y1="1294.90" x2="1271.82" y2="1274.50" stroke="#222222" stroke-width="6.1"/>
<line x1="1443.69" y1="803.00" x2="1443.69" y2="823.40" stroke="#222222" stroke-width="6.1"/>
<line x1="1443.69" y1="1294.90" x2="1443.69" y2="1274.50" stroke="#222222" stroke-width="6.1"/>
<line x1="1615.56" y1="803.00" x2="1615.56" y2="823.40" stroke="#222222" stroke-width="6.1"/>
<line x1="1615.56" y1="1294.90" x2="1615.56" y2="1274.50" stroke="#222222" stroke-width="6.1"/>
<line x1="1787.43" y1="803.00" x2="1787.43" y2="823.40" stroke="#222222" stroke-width="6.1"/>
<line x1="1787.43" y1="1294.90" x2="1787.43" y2="1274.50" stroke="#222222" stroke-width="6.1"/>
<line x1="240.60" y1="925.98" x2="261.00" y2="925.98" stroke="#222222" stroke-width="5.6"/>
<line x1="1959.30" y1="925.98" x2="1938.90" y2="925.98" stroke="#222222" stroke-width="5.6"/>
<line x1="240.60" y1="1048.95" x2="261.00" y2="1048.95" stroke="#222222" stroke-width="5.6"/>
<line x1="1959.30" y1="1048.95" x2="1938.90" y2="1048.95" stroke="#222222" stroke-width="5.6"/>
<line x1="240.60" y1="1171.93" x2="261.00" y2="1171.93" stroke="#222222" stroke-width="5.6"/>
<line x1="1959.30" y1="1171.93" x2="1938.90" y2="1171.93" stroke="#222222" stroke-width="5.6"/>
<rect x="240.60" y="803.00" width="1718.70" height="491.90" fill="none" stroke="#222222" stroke-width="5.65"/>
<clipPath id="c2"><rect x="228.60" y="803.00" width="1742.70" height="491.90"/></clipPath>
<path d="M240.37,972.33 L241.23,973.15 L242.09,973.98 L242.95,974.80 L243.81,975.63 L244.66,976.45 L245.52,977.28 L246.38,978.10 L247.24,978.93 L248.10,979.76 L248.96,980.58 L249.82,981.41 L250.68,982.23 L251.54,983.06 L252.40,983.88 L253.26,984.71 L254.12,985.54 L254.98,986.36 L255.84,987.19 L256.70,988.01 L257.55,988.84 L258.41,989.66 L259.27,990.49 L260.13,991.32 L260.99,992.14 L261.85,992.97 L262.71,993.79 L263.57,994.62 L264.43,995.44 L265.29,996.27 L266.15,997.10 L267.01,997.92 L267.87,998.75 L268.73,999.57 L269.59,1000.40 L270.45,1001.23 L271.30,1002.05 L272.16,1002.88 L273.02,1003.70 L273.88,1004.53 L274.74,1005.36 L275.60,1006.18 L276.46,1007.01 L277.32,1007.83 L278.18,1008.66 L279.04,1009.49 L279.90,1010.31 L280.76,1011.14 L281.62,1011.96 L282.48,1012.79 L283.34,1013.62 L284.19,1014.44 L285.05,1015.27 L285.91,1016.10 L286.77,1016.92 L287.63,1017.75 L288.49,1018.57 L289.35,1019.40 L290.21,1020.23 L291.07,1021.05 L291.93,1021.88 L292.79,1022.70 L293.65,1023.53 L294.51,1024.36 L295.37,1025.18 L296.23,1026.01 L297.09,1026.84 L297.94,1027.66 L298.80,1028.49 L299.66,1029.32 L300.52,1030.14 L301.38,1030.97 L302.24,1031.79 L303.10,1032.62 L303.96,1033.45 L304.82,1034.27 L305.68,1035.10 L306.54,1035.93 L307.40,1036.75 L308.26,1037.58 L309.12,1038.41 L309.98,1039.23 L310.83,1040.06 L311.69,1040.89 L312.55,1041.71 L313.41,1042.54 L314.27,1043.37 L315.13,1044.19 L315.99,1045.02 L316.85,1045.85 L317.71,1046.67 L318.57,1047.50 L319.43,1048.33 L320.29,1049.15 L321.15,1049.98 L322.01,1050.81 L322.87,1051.63 L323.72,1052.46 L324.58,1053.29 L325.44,1054.11 L326.30,1054.94 L327.16,809.82 L328.02,810.65 L328.88,811.47 L329.74,812.30 L330.60,813.13 L331.46,813.95 L332.32,814.78 L333.18,815.61 L334.04,816.43 L334.90,817.26 L335.76,818.09 L336.62,818.92 L337.47,819.74 L338.33,820.57 L339.19,821.40 L340.05,822.22 L340.91,823.05 L341.77,823.88 L342.63,824.71 L343.49,825.53 L344.35,826.36 L345.21,827.19 L346.07,828.01 L346.93,828.84 L347.79,829.67 L348.65,830.50 L349.51,831.32 L350.36,832.15 L351.22,832.98 L352.08,833.81 L352.94,834.63 L353.80,835.46 L354.66,836.29 L355.52,837.11 L356.38,837.94 L357.24,838.77 L358.10,839.60 L358.96,840.42 L359.82,841.25 L360.68,842.08 L361.54,842.91 L362.40,843.74 L363.26,844.56 L364.11,845.39 L364.97,846.22 L365.83,847.05 L366.69,847.87 L367.55,848.70 L368.41,849.53 L369.27,850.36 L370.13,851.18 L370.99,852.01 L371.85,852.84 L372.71,853.67 L373.57,854.50 L374.43,855.32 L375.29,856.15 L376.15,856.98 L377.00,857.81 L377.86,858.64 L378.72,859.46 L379.58,860.29 L380.44,861.12 L381.30,861.95 L382.16,862.78 L383.02,863.60 L383.88,864.43 L384.74,865.26 L385.60,866.09 L386.46,866.92 L387.32,867.74 L388.18,868.57 L389.04,869.40 L389.89,870.23 L390.75,871.06 L391.61,871.89 L392.47,872.71 L393.33,873.54 L394.19,874.37 L395.05,875.20 L395.91,876.03 L396.77,876.86 L397.63,877.68 L398.49,878.51 L399.35,879.34 L400.21,880.17 L401.07,881.00 L401.93,881.83 L402.79,882.65 L403.64,883.48 L404.50,884.31 L405.36,885.14 L406.22,885.97 L407.08,886.80 L407.94,887.63 L408.80,888.46 L409.66,889.28 L410.52,890.11 L411.38,890.94 L412.24,891.77 L413.10,892.60 L413.96,893.43 L414.82,894.26 L415.68,895.09 L416.53,895.91 L417.39,896.74 L418.25,897.57 L419.11,898.40 L419.97,899.23 L420.83,900.06 L421.69,900.89 L422.55,901.72 L423.41,902.55 L424.27,903.38 L425.13,904.21 L425.99,905.03 L426.85,905.86 L427.71,906.69 L428.57,907.52 L429.42,908.35 L430.28,909.18 L431.14,910.01 L432.00,910.84 L432.86,911.67 L433.72,912.50 L434.58,913.33 L435.44,914.16 L436.30,914.99 L437.16,915.82 L438.02,916.65 L438.88,917.48 L439.74,918.31 L440.60,919.13 L441.46,919.96 L442.32,920.79 L443.17,921.62 L444.03,922.45 L444.89,923.28 L445.75,924.11 L446.61,924.94 L447.47,925.77 L448.33,926.60 L449.19,927.43 L450.05,928.26 L450.91,929.09 L451.77,929.92 L452.63,930.75 L453.49,931.58 L454.35,932.41 L455.21,933.24 L456.06,934.07 L456.92,934.90 L457.78,935.73 L458.64,936.56 L459.50,937.39 L460.36,938.22 L461.22,939.05 L462.08,939.88 L462.94,940.71 L463.80,941.55 L464.66,942.38 L465.52,943.21 L466.38,944.04 L467.24,944.87 L468.10,945.70 L468.96,946.53 L469.81,947.36 L470.67,948.19 L471.53,949.02 L472.39,949.85 L473.25,950.68 L474.11,951.51 L474.97,952.34 L475.83,953.17 L476.69,954.00 L477.55,954.84 L478.41,955.67 L479.27,956.50 L480.13,957.33 L480.99,958.16 L481.85,958.99 L482.70,959.82 L483.56,960.65 L484.42,961.48 L485.28,962.31 L486.14,963.15 L487.00,963.98 L487.86,964.81 L488.72,965.64 L489.58,966.47 L490.44,967.30 L491.30,968.13 L492.16,968.97 L493.02,969.80 L493.88,970.63 L494.74,971.46 L495.59,972.29 L496.45,973.12 L497.31,973.95 L498.17,974.79 L499.03,975.62 L499.89,976.45 L500.75,977.28 L501.61,978.11 L502.47,978.95 L503.33,979.78 L504.19,980.61 L505.05,981.44 L505.91,982.27 L506.77,983.11 L507.63,983.94 L508.49,984.77 L509.34,985.60 L510.20,986.43 L511.06,987.27 L511.92,988.10 L512.78,988.93 L513.64,989.76 L514.50,990.60 L515.36,991.43 L516.22,992.26 L517.08,993.09 L517.94,993.93 L518.80,994.76 L519.66,995.59 L520.52,996.42 L521.38,997.26 L522.23,998.09 L523.09,998.92 L523.95,999.75 L524.81,1000.59 L525.67,1001.42 L526.53,1002.25 L527.39,1003.09 L528.25,1003.92 L529.11,1004.75 L529.97,1005.59 L530.83,1006.42 L531.69,1007.25 L532.55,1008.09 L533.41,1008.92 L534.27,1009.75 L535.13,1010.59 L535.98,1011.42 L536.84,1012.25 L537.70,1013.09 L538.56,1013.92 L539.42,1014.75 L540.28,1015.59 L541.14,1016.42 L542.00,1017.25 L542.86,1018.09 L543.72,1018.92 L544.58,1019.76 L545.44,1020.59 L546.30,1021.42 L547.16,1022.26 L548.02,1023.09 L548.87,1023.93 L549.73,1024.76 L550.59,1025.59 L551.45,1026.43 L552.31,1027.26 L553.17,1028.10 L554.03,1028.93 L554.89,1029.77 L555.75,1030.60 L556.61,1031.43 L557.47,1032.27 L558.33,1033.10 L559.19,1033.94 L560.05,1034.77 L560.91,1035.61 L561.76,1036.44 L562.62,1037.28 L563.48,1038.11 L564.34,1038.95 L565.20,1039.78 L566.06,1040.62 L566.92,1041.45 L567.78,1042.29 L568.64,1043.12 L569.50,1043.96 L570.36,1044.79 L571.22,1045.63 L572.08,1046.47 L572.94,1047.30 L573.80,1048.14 L574.66,1048.97 L575.51,1049.81 L576.37,1050.64 L577.23,1051.48 L578.09,1052.32 L578.95,1053.15 L579.81,1053.99 L580.67,1054.82 L581.53,1055.66 L582.39,1056.50 L583.25,1057.33 L584.11,1058.17 L584.97,813.05 L585.83,813.89 L586.69,814.73 L587.55,815.56 L588.40,816.40 L589.26,817.24 L590.12,818.07 L590.98,818.91 L591.84,819.75 L592.70,820.58 L593.56,821.42 L594.42,822.26 L595.28,823.09 L596.14,823.93 L597.00,824.77 L597.86,825.61 L598.72,826.44 L599.58,827.28 L600.44,828.12 L601.29,828.96 L602.15,829.79 L603.01,830.63 L603.87,831.47 L604.73,832.31 L605.59,833.14 L606.45,833.98 L607.31,834.82 L608.17,835.66 L609.03,836.50 L609.89,837.33 L610.75,838.17 L611.61,839.01 L612.47,839.85 L613.33,840.69 L614.19,841.53 L615.04,842.37 L615.90,843.20 L616.76,844.04 L617.62,844.88 L618.48,845.72 L619.34,846.56 L620.20,847.40 L621.06,848.24 L621.92,849.08 L622.78,849.92 L623.64,850.76 L624.50,851.59 L625.36,852.43 L626.22,853.27 L627.08,854.11 L627.93,854.95 L628.79,855.79 L629.65,856.63 L630.51,857.47 L631.37,858.31 L632.23,859.15 L633.09,859.99 L633.95,860.83 L634.81,861.67 L635.67,862.51 L636.53,863.35 L637.39,864.20 L638.25,865.04 L639.11,865.88 L639.97,866.72 L640.83,867.56 L641.68,868.40 L642.54,869.24 L643.40,870.08 L644.26,870.92 L645.12,871.76 L645.98,872.61 L646.84,873.45 L647.70,874.29 L648.56,875.13 L649.42,875.97 L650.28,876.81 L651.14,877.66 L652.00,878.50 L652.86,879.34 L653.72,880.18 L654.57,881.03 L655.43,881.87 L656.29,882.71 L657.15,883.55 L658.01,884.40 L658.87,885.24 L659.73,886.08 L660.59,886.93 L661.45,887.77 L662.31,888.61 L663.17,889.46 L664.03,890.30 L664.89,891.14 L665.75,891.99 L666.61,892.83 L667.46,893.67 L668.32,894.52 L669.18,895.36 L670.04,896.21 L670.90,897.05 L671.76,897.89 L672.62,898.74 L673.48,899.58 L674.34,900.43 L675.20,901.27 L676.06,902.12 L676.92,902.96 L677.78,903.81 L678.64,904.65 L679.50,905.50 L680.36,906.34 L681.21,907.19 L682.07,908.04 L682.93,908.88 L683.79,909.73 L684.65,910.57 L685.51,911.42 L686.37,912.27 L687.23,913.11 L688.09,913.96 L688.95,914.81 L689.81,915.65 L690.67,916.50 L691.53,917.35 L692.39,918.20 L693.25,919.04 L694.10,919.89 L694.96,920.74 L695.82,921.59 L696.68,922.43 L697.54,923.28 L698.40,924.13 L699.26,924.98 L700.12,925.83 L700.98,926.67 L701.84,927.52 L702.70,928.37 L703.56,929.22 L704.42,930.07 L705.28,930.92 L706.14,931.77 L707.00,932.62 L707.85,933.47 L708.71,934.32 L709.57,935.17 L710.43,936.02 L711.29,936.87 L712.15,937.72 L713.01,938.57 L713.87,939.42 L714.73,940.27 L715.59,941.12 L716.45,941.97 L717.31,942.83 L718.17,943.68 L719.03,944.53 L719.89,945.38 L720.74,946.23 L721.60,947.08 L722.46,947.94 L723.32,948.79 L724.18,949.64 L725.04,950.50 L725.90,951.35 L726.76,952.20 L727.62,953.06 L728.48,953.91 L729.34,954.76 L730.20,955.62 L731.06,956.47 L731.92,957.32 L732.78,958.18 L733.63,959.03 L734.49,959.89 L735.35,960.74 L736.21,961.60 L737.07,962.45 L737.93,963.31 L738.79,964.17 L739.65,965.02 L740.51,965.88 L741.37,966.73 L742.23,967.59 L743.09,968.45 L743.95,969.30 L744.81,970.16 L745.67,971.02 L746.53,971.88 L747.38,972.73 L748.24,973.59 L749.10,974.45 L749.96,975.31 L750.82,976.17 L751.68,977.03 L752.54,977.89 L753.40,978.75 L754.26,979.61 L755.12,980.47 L755.98,981.33 L756.84,982.19 L757.70,983.05 L758.56,983.91 L759.42,984.77 L760.27,985.63 L761.13,986.49 L761.99,987.35 L762.85,988.21 L763.71,989.08 L764.57,989.94 L765.43,990.80 L766.29,991.66 L767.15,992.53 L768.01,993.39 L768.87,994.25 L769.73,995.12 L770.59,995.98 L771.45,996.85 L772.31,997.71 L773.16,998.58 L774.02,999.44 L774.88,1000.31 L775.74,1001.17 L776.60,1002.04 L777.46,1002.91 L778.32,1003.77 L779.18,1004.64 L780.04,1005.51 L780.90,1006.38 L781.76,1007.24 L782.62,1008.11 L783.48,1008.98 L784.34,1009.85 L785.20,1010.72 L786.06,1011.59 L786.91,1012.46 L787.77,1013.33 L788.63,1014.20 L789.49,1015.07 L790.35,1015.94 L791.21,1016.81 L792.07,1017.69 L792.93,1018.56 L793.79,1019.43 L794.65,1020.30 L795.51,1021.18 L796.37,1022.05 L797.23,1022.93 L798.09,1023.80 L798.95,1024.67 L799.80,1025.55 L800.66,1026.43 L801.52,1027.30 L802.38,1028.18 L803.24,1029.05 L804.10,1029.93 L804.96,1030.81 L805.82,1031.69 L806.68,1032.57 L807.54,1033.44 L808.40,1034.32 L809.26,1035.20 L810.12,1036.08 L810.98,1036.96 L811.84,1037.84 L812.70,1038.73 L813.55,1039.61 L814.41,1040.49 L815.27,1041.37 L816.13,1042.26 L816.99,1043.14 L817.85,1044.02 L818.71,1044.91 L819.57,1045.79 L820.43,1046.68 L821.29,1047.57 L822.15,1048.45 L823.01,1049.34 L823.87,1050.23 L824.73,1051.11 L825.59,1052.00 L826.44,1052.89 L827.30,1053.78 L828.16,1054.67 L829.02,1055.56 L829.88,1056.46 L830.74,1057.35 L831.60,1058.24 L832.46,1059.13 L833.32,1060.03 L834.18,1060.92 L835.04,1061.82 L835.90,1062.71 L836.76,1063.61 L837.62,1064.50 L838.48,1065.40 L839.33,1066.30 L840.19,1067.20 L841.05,1068.10 L841.91,1069.00 L842.77,823.95 L843.63,824.85 L844.49,825.75 L845.35,826.66 L846.21,827.56 L847.07,828.46 L847.93,829.37 L848.79,830.28 L849.65,831.18 L850.51,832.09 L851.37,833.00 L852.23,833.91 L853.08,834.82 L853.94,835.73 L854.80,836.64 L855.66,837.55 L856.52,838.46 L857.38,839.38 L858.24,840.29 L859.10,841.21 L859.96,842.12 L860.82,843.04 L861.68,843.96 L862.54,844.88 L863.40,845.80 L864.26,846.72 L865.12,847.64 L865.97,848.57 L866.83,849.49 L867.69,850.42 L868.55,851.34 L869.41,852.27 L870.27,853.20 L871.13,854.13 L871.99,855.06 L872.85,855.99 L873.71,856.92 L874.57,857.86 L875.43,858.79 L876.29,859.73 L877.15,860.67 L878.01,861.60 L878.87,862.54 L879.72,863.49 L880.58,864.43 L881.44,865.37 L882.30,866.32 L883.16,867.26 L884.02,868.21 L884.88,869.16 L885.74,870.11 L886.60,871.07 L887.46,872.02 L888.32,872.98 L889.18,873.93 L890.04,874.89 L890.90,875.85 L891.76,876.81 L892.61,877.78 L893.47,878.74 L894.33,879.71 L895.19,880.68 L896.05,881.65 L896.91,882.62 L897.77,883.59 L898.63,884.57 L899.49,885.55 L900.35,886.53 L901.21,887.51 L902.07,888.49 L902.93,889.48 L903.79,890.46 L904.65,891.45 L905.50,892.45 L906.36,893.44 L907.22,894.44 L908.08,895.44 L908.94,896.44 L909.80,897.44 L910.66,898.45 L911.52,899.46 L912.38,900.47 L913.24,901.48 L914.10,902.50 L914.96,903.52 L915.82,904.54 L916.68,905.57 L917.54,906.59 L918.40,907.62 L919.25,908.66 L920.11,909.69 L920.97,910.74 L921.83,911.78 L922.69,912.83 L923.55,913.88 L924.41,914.93 L925.27,915.99 L926.13,917.05 L926.99,918.11 L927.85,919.18 L928.71,920.25 L929.57,921.33 L930.43,922.41 L931.29,923.49 L932.14,924.58 L933.00,925.68 L933.86,926.77 L934.72,927.88 L935.58,928.98 L936.44,930.10 L937.30,931.21 L938.16,932.34 L939.02,933.46 L939.88,934.60 L940.74,935.74 L941.60,936.88 L942.46,938.03 L943.32,939.19 L944.18,940.35 L945.03,941.52 L945.89,942.69 L946.75,943.87 L947.61,945.06 L948.47,946.26 L949.33,947.46 L950.19,948.67 L951.05,949.89 L951.91,951.11 L952.77,952.35 L953.63,953.59 L954.49,954.84 L955.35,956.10 L956.21,957.37 L957.07,958.65 L957.93,959.94 L958.78,961.24 L959.64,962.54 L960.50,963.86 L961.36,965.19 L962.22,966.54 L963.08,967.89 L963.94,969.25 L964.80,970.63 L965.66,972.02 L966.52,973.43 L967.38,974.84 L968.24,976.28 L969.10,977.72 L969.96,979.18 L970.82,980.66 L971.67,982.15 L972.53,983.66 L973.39,985.19 L974.25,986.73 L975.11,988.30 L975.97,989.88 L976.83,991.48 L977.69,993.10 L978.55,994.75 L979.41,996.41 L980.27,998.10 L981.13,999.81 L981.99,1001.54 L982.85,1003.30 L983.71,1005.08 L984.57,1006.89 L985.42,1008.73 L986.28,1010.59 L987.14,1012.49 L988.00,1014.41 L988.86,1016.37 L989.72,1018.35 L990.58,1020.37 L991.44,1022.42 L992.30,1024.51 L993.16,1026.63 L994.02,1028.78 L994.88,1030.98 L995.74,1033.21 L996.60,1035.47 L997.46,1037.78 L998.31,1040.13 L999.17,1042.52 L1000.03,1044.94 L1000.89,1047.41 L1001.75,1049.92 L1002.61,1052.47 L1003.47,1055.06 L1004.33,1057.70 L1005.19,1060.37 L1006.05,1063.08 L1006.91,1065.84 L1007.77,1068.63 L1008.63,1071.46 L1009.49,1074.32 L1010.35,1077.22 L1011.20,1080.15 L1012.06,1083.12 L1012.92,1086.11 L1013.78,1089.12 L1014.64,846.21 L1015.50,849.27 L1016.36,852.35 L1017.22,855.44 L1018.08,858.54 L1018.94,861.64 L1019.80,864.75 L1020.66,867.86 L1021.52,870.97 L1022.38,874.07 L1023.24,877.16 L1024.10,880.23 L1024.95,883.29 L1025.81,886.33 L1026.67,889.34 L1027.53,892.33 L1028.39,895.29 L1029.25,898.23 L1030.11,901.12 L1030.97,903.99 L1031.83,906.82 L1032.69,909.62 L1033.55,912.37 L1034.41,915.09 L1035.27,917.77 L1036.13,920.41 L1036.99,923.01 L1037.84,925.58 L1038.70,928.10 L1039.56,930.58 L1040.42,933.03 L1041.28,935.43 L1042.14,937.80 L1043.00,940.13 L1043.86,942.42 L1044.72,944.68 L1045.58,946.90 L1046.44,949.09 L1047.30,951.24 L1048.16,953.36 L1049.02,955.45 L1049.88,957.51 L1050.74,959.54 L1051.59,961.54 L1052.45,963.51 L1053.31,965.46 L1054.17,967.37 L1055.03,969.27 L1055.89,971.13 L1056.75,972.98 L1057.61,974.80 L1058.47,976.60 L1059.33,978.38 L1060.19,980.13 L1061.05,981.87 L1061.91,983.59 L1062.77,985.29 L1063.63,986.97 L1064.48,988.64 L1065.34,990.29 L1066.20,991.92 L1067.06,993.54 L1067.92,995.14 L1068.78,996.73 L1069.64,998.31 L1070.50,999.88 L1071.36,1001.43 L1072.22,1002.97 L1073.08,1004.50 L1073.94,1006.02 L1074.80,1007.53 L1075.66,1009.02 L1076.52,1010.51 L1077.37,1012.00 L1078.23,1013.47 L1079.09,1014.93 L1079.95,1016.39 L1080.81,1017.84 L1081.67,1019.28 L1082.53,1020.72 L1083.39,1022.15 L1084.25,1023.57 L1085.11,1024.99 L1085.97,1026.40 L1086.83,1027.81 L1087.69,1029.22 L1088.55,1030.62 L1089.41,1032.01 L1090.27,1033.41 L1091.12,1034.79 L1091.98,1036.18 L1092.84,1037.57 L1093.70,1038.95 L1094.56,1040.33 L1095.42,1041.71 L1096.28,1043.08 L1097.14,1044.46 L1098.00,1045.83 L1098.86,1047.21 L1099.72,1048.58 L1100.58,1049.95 L1101.44,1051.33 L1102.30,1052.70 L1103.16,1054.08 L1104.01,1055.45 L1104.87,1056.83 L1105.73,1058.21 L1106.59,1059.59 L1107.45,1060.97 L1108.31,1062.36 L1109.17,1063.74 L1110.03,1065.14 L1110.89,1066.53 L1111.75,1067.93 L1112.61,1069.33 L1113.47,1070.74 L1114.33,1072.15 L1115.19,1073.56 L1116.05,1074.98 L1116.90,1076.41 L1117.76,1077.84 L1118.62,1079.28 L1119.48,1080.73 L1120.34,1082.18 L1121.20,1083.64 L1122.06,1085.11 L1122.92,1086.59 L1123.78,1088.07 L1124.64,1089.56 L1125.50,1091.07 L1126.36,1092.58 L1127.22,1094.10 L1128.08,1095.64 L1128.94,1097.18 L1129.80,1098.74 L1130.65,1100.31 L1131.51,1101.90 L1132.37,1103.49 L1133.23,1105.10 L1134.09,1106.73 L1134.95,1108.37 L1135.81,1110.03 L1136.67,1111.70 L1137.53,1113.39 L1138.39,1115.10 L1139.25,1116.83 L1140.11,1118.57 L1140.97,1120.34 L1141.83,1122.13 L1142.69,1123.94 L1143.54,1125.77 L1144.40,1127.62 L1145.26,1129.50 L1146.12,1131.41 L1146.98,1133.34 L1147.84,1135.29 L1148.70,1137.28 L1149.56,1139.29 L1150.42,1141.33 L1151.28,1143.40 L1152.14,1145.51 L1153.00,1147.64 L1153.86,1149.81 L1154.72,1152.02 L1155.58,1154.26 L1156.44,1156.53 L1157.29,1158.84 L1158.15,1161.19 L1159.01,1163.57 L1159.87,1165.99 L1160.73,1168.46 L1161.59,1170.96 L1162.45,1173.50 L1163.31,1176.08 L1164.17,1178.70 L1165.03,1181.36 L1165.89,1184.05 L1166.75,1186.79 L1167.61,1189.56 L1168.47,1192.38 L1169.33,1195.22 L1170.18,1198.10 L1171.04,1201.02 L1171.90,1203.97 L1172.76,1206.94 L1173.62,1209.94 L1174.48,1212.97 L1175.34,1216.01 L1176.20,1219.08 L1177.06,1222.16 L1177.92,1225.26 L1178.78,1228.36 L1179.64,1231.47 L1180.50,1234.58 L1181.36,1237.69 L1182.22,1240.79 L1183.07,1243.89 L1183.93,1246.97 L1184.79,1250.04 L1185.65,1253.09 L1186.51,1010.17 L1187.37,1013.17 L1188.23,1016.15 L1189.09,1019.10 L1189.95,1022.02 L1190.81,1024.90 L1191.67,1027.75 L1192.53,1030.56 L1193.39,1033.33 L1194.25,1036.07 L1195.11,1038.77 L1195.97,1041.42 L1196.82,1044.03 L1197.68,1046.61 L1198.54,1049.14 L1199.40,1051.63 L1200.26,1054.08 L1201.12,1056.49 L1201.98,1058.86 L1202.84,1061.18 L1203.70,1063.47 L1204.56,1065.72 L1205.42,1067.94 L1206.28,1070.11 L1207.14,1072.25 L1208.00,1074.36 L1208.86,1076.43 L1209.71,1078.46 L1210.57,1080.47 L1211.43,1082.44 L1212.29,1084.38 L1213.15,1086.29 L1214.01,1088.17 L1214.87,1090.02 L1215.73,1091.84 L1216.59,1093.64 L1217.45,1095.41 L1218.31,1097.16 L1219.17,1098.88 L1220.03,1100.58 L1220.89,1102.26 L1221.75,1103.91 L1222.61,1105.55 L1223.46,1107.16 L1224.32,1108.75 L1225.18,1110.32 L1226.04,1111.88 L1226.90,1113.42 L1227.76,1114.93 L1228.62,1116.44 L1229.48,1117.92 L1230.34,1119.39 L1231.20,1120.85 L1232.06,1122.29 L1232.92,1123.71 L1233.78,1125.12 L1234.64,1126.52 L1235.50,1127.90 L1236.35,1129.28 L1237.21,1130.64 L1238.07,1131.98 L1238.93,1133.32 L1239.79,1134.64 L1240.65,1135.96 L1241.51,1137.26 L1242.37,1138.56 L1243.23,1139.84 L1244.09,1141.11 L1244.95,1142.38 L1245.81,1143.64 L1246.67,1144.88 L1247.53,1146.12 L1248.39,1147.35 L1249.24,1148.57 L1250.10,1149.79 L1250.96,1150.99 L1251.82,1152.19 L1252.68,1153.39 L1253.54,1154.57 L1254.40,1155.75 L1255.26,1156.92 L1256.12,1158.09 L1256.98,1159.25 L1257.84,1160.40 L1258.70,1161.55 L1259.56,1162.69 L1260.42,1163.83 L1261.28,1164.96 L1262.14,1166.08 L1262.99,1167.20 L1263.85,1168.32 L1264.71,1169.43 L1265.57,1170.53 L1266.43,1171.63 L1267.29,1172.73 L1268.15,1173.82 L1269.01,1174.90 L1269.87,1175.99 L1270.73,1177.07 L1271.59,1178.14 L1272.45,1179.21 L1273.31,1180.28 L1274.17,1181.34 L1275.03,1182.40 L1275.88,1183.46 L1276.74,1184.51 L1277.60,1185.56 L1278.46,1186.60 L1279.32,1187.64 L1280.18,1188.68 L1281.04,1189.72 L1281.90,1190.75 L1282.76,1191.78 L1283.62,1192.81 L1284.48,1193.83 L1285.34,1194.85 L1286.20,1195.87 L1287.06,1196.88 L1287.92,1197.90 L1288.77,1198.91 L1289.63,1199.92 L1290.49,1200.92 L1291.35,1201.92 L1292.21,1202.92 L1293.07,1203.92 L1293.93,1204.92 L1294.79,1205.91 L1295.65,1206.90 L1296.51,1207.89 L1297.37,1208.88 L1298.23,1209.86 L1299.09,1210.84 L1299.95,1211.83 L1300.81,1212.80 L1301.67,1213.78 L1302.52,1214.76 L1303.38,1215.73 L1304.24,1216.70 L1305.10,1217.67 L1305.96,1218.64 L1306.82,1219.60 L1307.68,1220.57 L1308.54,1221.53 L1309.40,1222.49 L1310.26,1223.45 L1311.12,1224.41 L1311.98,1225.36 L1312.84,1226.32 L1313.70,1227.27 L1314.56,1228.22 L1315.41,1229.17 L1316.27,1230.12 L1317.13,1231.07 L1317.99,1232.02 L1318.85,1232.96 L1319.71,1233.91 L1320.57,1234.85 L1321.43,1235.79 L1322.29,1236.73 L1323.15,1237.67 L1324.01,1238.60 L1324.87,1239.54 L1325.73,1240.47 L1326.59,1241.41 L1327.45,1242.34 L1328.31,1243.27 L1329.16,1244.20 L1330.02,1245.13 L1330.88,1246.06 L1331.74,1246.98 L1332.60,1247.91 L1333.46,1248.83 L1334.32,1249.76 L1335.18,1250.68 L1336.04,1251.60 L1336.90,1252.52 L1337.76,1253.44 L1338.62,1254.36 L1339.48,1255.28 L1340.34,1256.20 L1341.20,1257.11 L1342.05,1258.03 L1342.91,1258.94 L1343.77,1259.86 L1344.63,1260.77 L1345.49,1261.68 L1346.35,1262.59 L1347.21,1263.50 L1348.07,1264.41 L1348.93,1265.32 L1349.79,1266.23 L1350.65,1267.14 L1351.51,1268.04 L1352.37,1268.95 L1353.23,1269.85 L1354.09,1270.76 L1354.94,1271.66 L1355.80,1272.56 L1356.66,1273.46 L1357.52,1274.36 L1358.38,1029.32 L1359.24,1030.21 L1360.10,1031.11 L1360.96,1032.01 L1361.82,1032.91 L1362.68,1033.81 L1363.54,1034.70 L1364.40,1035.60 L1365.26,1036.50 L1366.12,1037.39 L1366.98,1038.28 L1367.84,1039.18 L1368.69,1040.07 L1369.55,1040.96 L1370.41,1041.85 L1371.27,1042.75 L1372.13,1043.64 L1372.99,1044.53 L1373.85,1045.42 L1374.71,1046.31 L1375.57,1047.19 L1376.43,1048.08 L1377.29,1048.97 L1378.15,1049.86 L1379.01,1050.74 L1379.87,1051.63 L1380.73,1052.51 L1381.58,1053.40 L1382.44,1054.28 L1383.30,1055.17 L1384.16,1056.05 L1385.02,1056.93 L1385.88,1057.82 L1386.74,1058.70 L1387.60,1059.58 L1388.46,1060.46 L1389.32,1061.34 L1390.18,1062.22 L1391.04,1063.10 L1391.90,1063.98 L1392.76,1064.86 L1393.62,1065.74 L1394.48,1066.62 L1395.33,1067.49 L1396.19,1068.37 L1397.05,1069.25 L1397.91,1070.13 L1398.77,1071.00 L1399.63,1071.88 L1400.49,1072.75 L1401.35,1073.63 L1402.21,1074.50 L1403.07,1075.38 L1403.93,1076.25 L1404.79,1077.12 L1405.65,1078.00 L1406.51,1078.87 L1407.37,1079.74 L1408.22,1080.62 L1409.08,1081.49 L1409.94,1082.36 L1410.80,1083.23 L1411.66,1084.10 L1412.52,1084.97 L1413.38,1085.84 L1414.24,1086.71 L1415.10,1087.58 L1415.96,1088.45 L1416.82,1089.32 L1417.68,1090.19 L1418.54,1091.05 L1419.40,1091.92 L1420.26,1092.79 L1421.11,1093.66 L1421.97,1094.52 L1422.83,1095.39 L1423.69,1096.26 L1424.55,1097.12 L1425.41,1097.99 L1426.27,1098.85 L1427.13,1099.72 L1427.99,1100.59 L1428.85,1101.45 L1429.71,1102.31 L1430.57,1103.18 L1431.43,1104.04 L1432.29,1104.91 L1433.15,1105.77 L1434.01,1106.63 L1434.86,1107.50 L1435.72,1108.36 L1436.58,1109.22 L1437.44,1110.08 L1438.30,1110.94 L1439.16,1111.81 L1440.02,1112.67 L1440.88,1113.53 L1441.74,1114.39 L1442.60,1115.25 L1443.46,1116.11 L1444.32,1116.97 L1445.18,1117.83 L1446.04,1118.69 L1446.90,1119.55 L1447.75,1120.41 L1448.61,1121.27 L1449.47,1122.13 L1450.33,1122.99 L1451.19,1123.84 L1452.05,1124.70 L1452.91,1125.56 L1453.77,1126.42 L1454.63,1127.28 L1455.49,1128.13 L1456.35,1128.99 L1457.21,1129.85 L1458.07,1130.70 L1458.93,1131.56 L1459.79,1132.42 L1460.64,1133.27 L1461.50,1134.13 L1462.36,1134.98 L1463.22,1135.84 L1464.08,1136.69 L1464.94,1137.55 L1465.80,1138.40 L1466.66,1139.26 L1467.52,1140.11 L1468.38,1140.97 L1469.24,1141.82 L1470.10,1142.68 L1470.96,1143.53 L1471.82,1144.38 L1472.68,1145.24 L1473.54,1146.09 L1474.39,1146.94 L1475.25,1147.80 L1476.11,1148.65 L1476.97,1149.50 L1477.83,1150.35 L1478.69,1151.21 L1479.55,1152.06 L1480.41,1152.91 L1481.27,1153.76 L1482.13,1154.61 L1482.99,1155.47 L1483.85,1156.32 L1484.71,1157.17 L1485.57,1158.02 L1486.43,1158.87 L1487.28,1159.72 L1488.14,1160.57 L1489.00,1161.42 L1489.86,1162.27 L1490.72,1163.12 L1491.58,1163.97 L1492.44,1164.82 L1493.30,1165.67 L1494.16,1166.52 L1495.02,1167.37 L1495.88,1168.22 L1496.74,1169.07 L1497.60,1169.92 L1498.46,1170.77 L1499.32,1171.62 L1500.18,1172.46 L1501.03,1173.31 L1501.89,1174.16 L1502.75,1175.01 L1503.61,1175.86 L1504.47,1176.70 L1505.33,1177.55 L1506.19,1178.40 L1507.05,1179.25 L1507.91,1180.09 L1508.77,1180.94 L1509.63,1181.79 L1510.49,1182.64 L1511.35,1183.48 L1512.21,1184.33 L1513.07,1185.18 L1513.92,1186.02 L1514.78,1186.87 L1515.64,1187.71 L1516.50,1188.56 L1517.36,1189.41 L1518.22,1190.25 L1519.08,1191.10 L1519.94,1191.94 L1520.80,1192.79 L1521.66,1193.63 L1522.52,1194.48 L1523.38,1195.33 L1524.24,1196.17 L1525.10,1197.02 L1525.96,1197.86 L1526.81,1198.70 L1527.67,1199.55 L1528.53,1200.39 L1529.39,1201.24 L1530.25,1202.08 L1531.11,1202.93 L1531.97,1203.77 L1532.83,1204.61 L1533.69,1205.46 L1534.55,1206.30 L1535.41,1207.15 L1536.27,1207.99 L1537.13,1208.83 L1537.99,1209.68 L1538.85,1210.52 L1539.71,1211.36 L1540.56,1212.21 L1541.42,1213.05 L1542.28,1213.89 L1543.14,1214.73 L1544.00,1215.58 L1544.86,1216.42 L1545.72,1217.26 L1546.58,1218.10 L1547.44,1218.95 L1548.30,1219.79 L1549.16,1220.63 L1550.02,1221.47 L1550.88,1222.31 L1551.74,1223.16 L1552.60,1224.00 L1553.45,1224.84 L1554.31,1225.68 L1555.17,1226.52 L1556.03,1227.36 L1556.89,1228.20 L1557.75,1229.05 L1558.61,1229.89 L1559.47,1230.73 L1560.33,1231.57 L1561.19,1232.41 L1562.05,1233.25 L1562.91,1234.09 L1563.77,1234.93 L1564.63,1235.77 L1565.49,1236.61 L1566.35,1237.45 L1567.20,1238.29 L1568.06,1239.13 L1568.92,1239.97 L1569.78,1240.81 L1570.64,1241.65 L1571.50,1242.49 L1572.36,1243.33 L1573.22,1244.17 L1574.08,1245.01 L1574.94,1245.85 L1575.80,1246.69 L1576.66,1247.53 L1577.52,1248.37 L1578.38,1249.21 L1579.24,1250.05 L1580.09,1250.89 L1580.95,1251.73 L1581.81,1252.57 L1582.67,1253.40 L1583.53,1254.24 L1584.39,1255.08 L1585.25,1255.92 L1586.11,1256.76 L1586.97,1257.60 L1587.83,1258.44 L1588.69,1259.27 L1589.55,1260.11 L1590.41,1260.95 L1591.27,1261.79 L1592.13,1262.63 L1592.98,1263.47 L1593.84,1264.30 L1594.70,1265.14 L1595.56,1265.98 L1596.42,1266.82 L1597.28,1267.65 L1598.14,1268.49 L1599.00,1269.33 L1599.86,1270.17 L1600.72,1271.00 L1601.58,1271.84 L1602.44,1272.68 L1603.30,1273.52 L1604.16,1274.35 L1605.02,1275.19 L1605.88,1276.03 L1606.73,1276.86 L1607.59,1277.70 L1608.45,1278.54 L1609.31,1279.37 L1610.17,1280.21 L1611.03,1281.05 L1611.89,1281.88 L1612.75,1282.72 L1613.61,1283.56 L1614.47,1284.39 L1615.33,1285.23 L1616.19,1040.12 L1617.05,1040.95 L1617.91,1041.79 L1618.77,1042.63 L1619.62,1043.46 L1620.48,1044.30 L1621.34,1045.13 L1622.20,1045.97 L1623.06,1046.80 L1623.92,1047.64 L1624.78,1048.48 L1625.64,1049.31 L1626.50,1050.15 L1627.36,1050.98 L1628.22,1051.82 L1629.08,1052.65 L1629.94,1053.49 L1630.80,1054.33 L1631.66,1055.16 L1632.51,1056.00 L1633.37,1056.83 L1634.23,1057.67 L1635.09,1058.50 L1635.95,1059.34 L1636.81,1060.17 L1637.67,1061.01 L1638.53,1061.84 L1639.39,1062.68 L1640.25,1063.51 L1641.11,1064.35 L1641.97,1065.18 L1642.83,1066.01 L1643.69,1066.85 L1644.55,1067.68 L1645.41,1068.52 L1646.26,1069.35 L1647.12,1070.19 L1647.98,1071.02 L1648.84,1071.86 L1649.70,1072.69 L1650.56,1073.52 L1651.42,1074.36 L1652.28,1075.19 L1653.14,1076.03 L1654.00,1076.86 L1654.86,1077.69 L1655.72,1078.53 L1656.58,1079.36 L1657.44,1080.20 L1658.30,1081.03 L1659.15,1081.86 L1660.01,1082.70 L1660.87,1083.53 L1661.73,1084.36 L1662.59,1085.20 L1663.45,1086.03 L1664.31,1086.86 L1665.17,1087.70 L1666.03,1088.53 L1666.89,1089.36 L1667.75,1090.20 L1668.61,1091.03 L1669.47,1091.86 L1670.33,1092.70 L1671.19,1093.53 L1672.05,1094.36 L1672.90,1095.20 L1673.76,1096.03 L1674.62,1096.86 L1675.48,1097.70 L1676.34,1098.53 L1677.20,1099.36 L1678.06,1100.19 L1678.92,1101.03 L1679.78,1101.86 L1680.64,1102.69 L1681.50,1103.52 L1682.36,1104.36 L1683.22,1105.19 L1684.08,1106.02 L1684.94,1106.85 L1685.79,1107.69 L1686.65,1108.52 L1687.51,1109.35 L1688.37,1110.18 L1689.23,1111.02 L1690.09,1111.85 L1690.95,1112.68 L1691.81,1113.51 L1692.67,1114.35 L1693.53,1115.18 L1694.39,1116.01 L1695.25,1116.84 L1696.11,1117.67 L1696.97,1118.51 L1697.83,1119.34 L1698.68,1120.17 L1699.54,1121.00 L1700.40,1121.83 L1701.26,1122.66 L1702.12,1123.50 L1702.98,1124.33 L1703.84,1125.16 L1704.70,1125.99 L1705.56,1126.82 L1706.42,1127.65 L1707.28,1128.49 L1708.14,1129.32 L1709.00,1130.15 L1709.86,1130.98 L1710.72,1131.81 L1711.58,1132.64 L1712.43,1133.47 L1713.29,1134.30 L1714.15,1135.14 L1715.01,1135.97 L1715.87,1136.80 L1716.73,1137.63 L1717.59,1138.46 L1718.45,1139.29 L1719.31,1140.12 L1720.17,1140.95 L1721.03,1141.78 L1721.89,1142.62 L1722.75,1143.45 L1723.61,1144.28 L1724.47,1145.11 L1725.32,1145.94 L1726.18,1146.77 L1727.04,1147.60 L1727.90,1148.43 L1728.76,1149.26 L1729.62,1150.09 L1730.48,1150.92 L1731.34,1151.75 L1732.20,1152.58 L1733.06,1153.42 L1733.92,1154.25 L1734.78,1155.08 L1735.64,1155.91 L1736.50,1156.74 L1737.36,1157.57 L1738.22,1158.40 L1739.07,1159.23 L1739.93,1160.06 L1740.79,1160.89 L1741.65,1161.72 L1742.51,1162.55 L1743.37,1163.38 L1744.23,1164.21 L1745.09,1165.04 L1745.95,1165.87 L1746.81,1166.70 L1747.67,1167.53 L1748.53,1168.36 L1749.39,1169.19 L1750.25,1170.02 L1751.11,1170.85 L1751.96,1171.68 L1752.82,1172.51 L1753.68,1173.34 L1754.54,1174.17 L1755.40,1175.00 L1756.26,1175.83 L1757.12,1176.66 L1757.98,1177.49 L1758.84,1178.32 L1759.70,1179.15 L1760.56,1179.98 L1761.42,1180.81 L1762.28,1181.64 L1763.14,1182.47 L1764.00,1183.29 L1764.85,1184.12 L1765.71,1184.95 L1766.57,1185.78 L1767.43,1186.61 L1768.29,1187.44 L1769.15,1188.27 L1770.01,1189.10 L1770.87,1189.93 L1771.73,1190.76 L1772.59,1191.59 L1773.45,1192.42 L1774.31,1193.25 L1775.17,1194.08 L1776.03,1194.91 L1776.89,1195.73 L1777.75,1196.56 L1778.60,1197.39 L1779.46,1198.22 L1780.32,1199.05 L1781.18,1199.88 L1782.04,1200.71 L1782.90,1201.54 L1783.76,1202.37 L1784.62,1203.20 L1785.48,1204.02 L1786.34,1204.85 L1787.20,1205.68 L1788.06,1206.51 L1788.92,1207.34 L1789.78,1208.17 L1790.64,1209.00 L1791.49,1209.83 L1792.35,1210.65 L1793.21,1211.48 L1794.07,1212.31 L1794.93,1213.14 L1795.79,1213.97 L1796.65,1214.80 L1797.51,1215.63 L1798.37,1216.46 L1799.23,1217.28 L1800.09,1218.11 L1800.95,1218.94 L1801.81,1219.77 L1802.67,1220.60 L1803.53,1221.43 L1804.38,1222.25 L1805.24,1223.08 L1806.10,1223.91 L1806.96,1224.74 L1807.82,1225.57 L1808.68,1226.40 L1809.54,1227.22 L1810.40,1228.05 L1811.26,1228.88 L1812.12,1229.71 L1812.98,1230.54 L1813.84,1231.37 L1814.70,1232.19 L1815.56,1233.02 L1816.42,1233.85 L1817.28,1234.68 L1818.13,1235.51 L1818.99,1236.33 L1819.85,1237.16 L1820.71,1237.99 L1821.57,1238.82 L1822.43,1239.65 L1823.29,1240.47 L1824.15,1241.30 L1825.01,1242.13 L1825.87,1242.96 L1826.73,1243.79 L1827.59,1244.61 L1828.45,1245.44 L1829.31,1246.27 L1830.17,1247.10 L1831.02,1247.92 L1831.88,1248.75 L1832.74,1249.58 L1833.60,1250.41 L1834.46,1251.23 L1835.32,1252.06 L1836.18,1252.89 L1837.04,1253.72 L1837.90,1254.55 L1838.76,1255.37 L1839.62,1256.20 L1840.48,1257.03 L1841.34,1257.86 L1842.20,1258.68 L1843.06,1259.51 L1843.92,1260.34 L1844.77,1261.17 L1845.63,1261.99 L1846.49,1262.82 L1847.35,1263.65 L1848.21,1264.48 L1849.07,1265.30 L1849.93,1266.13 L1850.79,1266.96 L1851.65,1267.78 L1852.51,1268.61 L1853.37,1269.44 L1854.23,1270.27 L1855.09,1271.09 L1855.95,1271.92 L1856.81,1272.75 L1857.66,1273.58 L1858.52,1274.40 L1859.38,1275.23 L1860.24,1276.06 L1861.10,1276.88 L1861.96,1277.71 L1862.82,1278.54 L1863.68,1279.37 L1864.54,1280.19 L1865.40,1281.02 L1866.26,1281.85 L1867.12,1282.67 L1867.98,1283.50 L1868.84,1284.33 L1869.70,1285.15 L1870.55,1285.98 L1871.41,1286.81 L1872.27,1287.64 L1873.13,1288.46 L1873.99,1043.34 L1874.85,1044.17 L1875.71,1044.99 L1876.57,1045.82 L1877.43,1046.65 L1878.29,1047.47 L1879.15,1048.30 L1880.01,1049.13 L1880.87,1049.95 L1881.73,1050.78 L1882.59,1051.61 L1883.45,1052.43 L1884.30,1053.26 L1885.16,1054.09 L1886.02,1054.91 L1886.88,1055.74 L1887.74,1056.57 L1888.60,1057.39 L1889.46,1058.22 L1890.32,1059.05 L1891.18,1059.87 L1892.04,1060.70 L1892.90,1061.53 L1893.76,1062.35 L1894.62,1063.18 L1895.48,1064.01 L1896.34,1064.83 L1897.19,1065.66 L1898.05,1066.49 L1898.91,1067.31 L1899.77,1068.14 L1900.63,1068.96 L1901.49,1069.79 L1902.35,1070.62 L1903.21,1071.44 L1904.07,1072.27 L1904.93,1073.10 L1905.79,1073.92 L1906.65,1074.75 L1907.51,1075.58 L1908.37,1076.40 L1909.23,1077.23 L1910.09,1078.05 L1910.94,1078.88 L1911.80,1079.71 L1912.66,1080.53 L1913.52,1081.36 L1914.38,1082.18 L1915.24,1083.01 L1916.10,1083.84 L1916.96,1084.66 L1917.82,1085.49 L1918.68,1086.32 L1919.54,1087.14 L1920.40,1087.97 L1921.26,1088.79 L1922.12,1089.62 L1922.98,1090.45 L1923.83,1091.27 L1924.69,1092.10 L1925.55,1092.92 L1926.41,1093.75 L1927.27,1094.58 L1928.13,1095.40 L1928.99,1096.23 L1929.85,1097.05 L1930.71,1097.88 L1931.57,1098.71 L1932.43,1099.53 L1933.29,1100.36 L1934.15,1101.18 L1935.01,1102.01 L1935.87,1102.84 L1936.72,1103.66 L1937.58,1104.49 L1938.44,1105.31 L1939.30,1106.14 L1940.16,1106.96 L1941.02,1107.79 L1941.88,1108.62 L1942.74,1109.44 L1943.60,1110.27 L1944.46,1111.09 L1945.32,1111.92 L1946.18,1112.74 L1947.04,1113.57 L1947.90,1114.40 L1948.76,1115.22 L1949.62,1116.05 L1950.47,1116.87 L1951.33,1117.70 L1952.19,1118.52 L1953.05,1119.35 L1953.91,1120.17 L1954.77,1121.00 L1955.63,1121.83 L1956.49,1122.65 L1957.35,1123.48 L1958.21,1124.30" fill="none" stroke="#0072c4" stroke-width="5.8" stroke-linejoin="round" stroke-linecap="butt" clip-path="url(#c2)"/>
<text x="240.60" y="1384.80" text-anchor="middle">-1000</text>
<text x="412.47" y="1384.80" text-anchor="middle">-800</text>
<text x="584.34" y="1384.80" text-anchor="middle">-600</text>
<text x="756.21" y="1384.80" text-anchor="middle">-400</text>
<text x="928.08" y="1384.80" text-anchor="middle">-200</text>
<text x="1099.95" y="1384.80" text-anchor="middle">0</text>
<text x="1271.82" y="1384.80" text-anchor="middle">200</text>
<text x="1443.69" y="1384.80" text-anchor="middle">400</text>
<text x="1615.56" y="1384.80" text-anchor="middle">600</text>
<text x="1787.43" y="1384.80" text-anchor="middle">800</text>
<text x="1959.30" y="1384.80" text-anchor="middle">1000</text>
<text x="211.00" y="826.30" text-anchor="end">180</text>
<text x="211.00" y="949.27" text-anchor="end">90</text>
<text x="211.00" y="1072.25" text-anchor="end">0</text>
<text x="211.00" y="1195.23" text-anchor="end">-90</text>
<text x="211.00" y="1318.20" text-anchor="end">-180</text>
<text x="1099.95" y="1466.60" text-anchor="middle">Frequency (Hz)</text>
<text transform="translate(72.50,1049.45) rotate(-90)" text-anchor="middle">Phase (deg)</text>
</g>
</svg>
</body></html>
